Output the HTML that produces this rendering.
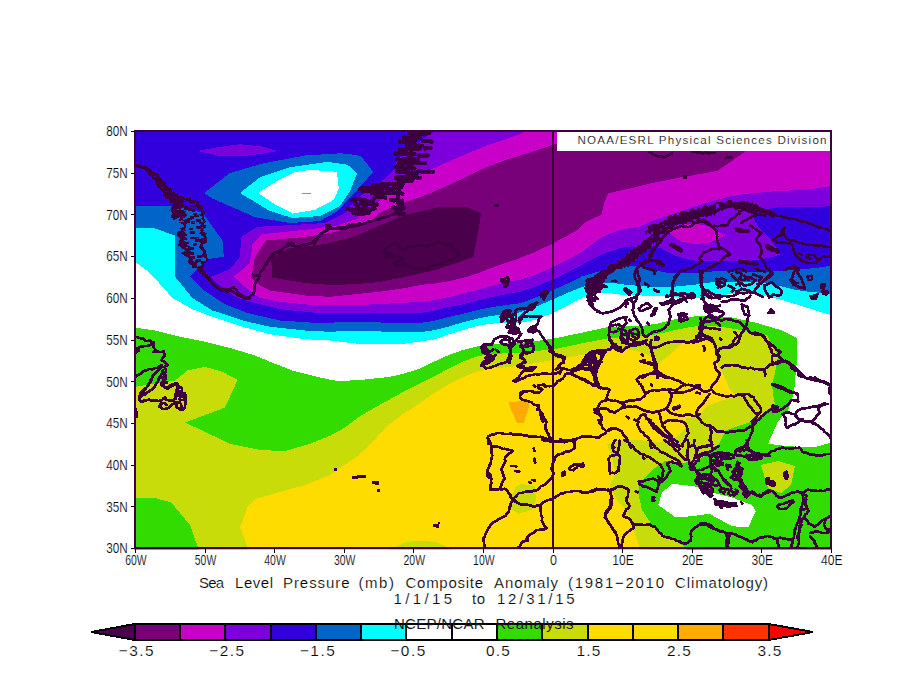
<!DOCTYPE html>
<html><head><meta charset="utf-8"><title>Sea Level Pressure Composite Anomaly</title>
<style>
html,body{margin:0;padding:0;background:#fff}
body{width:904px;height:699px;overflow:hidden}
svg{display:block}
text{font-family:"Liberation Sans",sans-serif;fill:#000;stroke:#fff;stroke-width:.18px}
text.n{stroke:none;fill:#1a1a1a}
</style></head><body>
<svg width="904" height="699" viewBox="0 0 904 699">
<defs><clipPath id="cp"><rect x="134" y="130" width="698" height="420"/></clipPath></defs>
<rect width="904" height="699" fill="#fff"/>
<g clip-path="url(#cp)" shape-rendering="crispEdges">
<rect x="134" y="130" width="698" height="420" fill="#fff"/>
<polygon fill="#00FFFF" points="134.0,128.0 134.0,261.0 150.0,273.0 172.5,298.0 192.5,309.2 212.5,316.8 242.5,326.8 270.0,334.2 305.0,339.2 330.0,340.5 356.0,343.5 381.0,344.2 406.0,343.5 420.0,341.6 434.3,339.4 448.6,334.4 462.9,330.1 477.2,325.8 491.5,323.7 500.0,323.0 520.0,323.0 534.3,320.0 552.9,313.0 567.2,305.8 581.5,298.0 590.0,294.5 598.6,292.7 611.5,293.4 624.4,295.0 642.0,295.5 665.0,296.0 687.0,298.5 704.0,298.0 718.7,295.5 740.0,293.0 757.0,294.2 782.0,300.0 808.0,308.0 832.0,315.5 832.0,128.0"/>
<polygon fill="#0064C8" points="134.0,128.0 134.0,228.0 155.0,228.5 175.0,235.5 175.0,276.8 192.5,298.0 212.5,310.5 242.5,320.5 270.0,326.8 305.0,330.5 330.0,331.8 356.0,330.5 381.0,331.5 406.0,332.3 420.0,332.3 434.3,330.1 448.6,326.5 462.9,322.2 477.2,318.7 491.5,315.8 505.8,314.4 520.0,312.3 534.3,307.3 552.9,299.4 567.2,293.0 581.5,287.2 593.5,284.4 602.5,282.4 614.1,283.1 627.0,285.0 640.0,285.8 654.3,287.3 668.6,287.3 682.9,285.8 697.2,284.4 711.5,282.3 725.8,281.5 740.0,281.5 750.3,281.5 764.6,283.0 778.9,285.8 793.2,289.4 807.5,291.6 832.0,294.0 832.0,128.0"/>
<polygon fill="#3200DC" points="134.0,128.0 134.0,205.5 170.0,205.5 202.5,212.5 216.2,231.8 222.5,240.5 223.8,256.8 207.5,259.2 190.0,276.8 202.5,289.2 225.0,304.2 247.5,313.0 280.0,320.5 317.5,323.0 356.0,321.8 381.0,322.5 406.0,323.0 420.0,323.0 434.3,320.8 448.6,317.2 462.9,313.7 477.2,310.1 491.5,307.2 505.8,305.1 520.0,303.3 534.3,298.0 552.9,290.1 567.2,283.7 581.5,276.5 598.6,271.5 611.5,267.0 621.8,265.1 629.5,265.5 640.0,267.2 654.3,270.1 668.6,273.0 682.9,273.0 697.2,272.7 711.5,271.5 725.8,270.5 736.0,271.5 750.3,272.2 771.8,271.5 793.2,270.1 814.7,268.0 832.0,265.8 832.0,128.0"/>
<polygon fill="#7D00DC" points="437.0,129.0 434.5,131.7 425.1,137.3 414.5,145.3 403.9,153.3 395.9,162.6 393.2,170.6 385.2,178.6 373.3,186.5 362.6,194.5 353.3,202.5 345.3,213.1 325.0,223.0 292.5,225.0 257.5,226.8 241.2,236.8 240.0,256.8 230.0,269.2 210.0,277.5 225.0,289.2 235.0,296.8 255.0,303.0 280.0,309.2 317.5,313.0 356.0,313.0 381.0,313.2 406.0,313.0 420.0,313.0 434.3,310.8 448.6,307.2 462.9,304.4 477.2,300.8 491.5,297.2 505.8,294.3 520.0,291.8 534.3,287.2 552.9,279.4 567.2,272.2 581.5,265.1 598.6,256.0 611.5,250.9 621.8,247.7 632.1,246.4 640.0,247.2 651.4,245.8 661.5,248.6 675.8,255.8 690.1,260.1 704.4,261.5 718.7,260.8 736.0,261.5 757.5,260.1 771.8,257.2 780.3,254.4 777.5,248.6 768.9,237.2 758.9,227.2 752.0,216.0 754.6,212.2 768.9,208.6 778.9,207.2 832.0,206.4 832.0,128.0"/>
<polygon fill="#C800C8" points="528.5,130.0 518.5,134.8 486.0,146.0 460.0,156.6 446.4,162.6 433.1,168.6 422.5,173.9 411.8,179.2 402.5,184.5 393.2,190.5 379.9,200.5 366.6,210.5 356.0,219.0 337.5,225.5 305.0,229.8 262.5,234.2 252.5,244.2 250.0,263.0 233.8,276.8 247.5,289.2 260.0,298.0 280.0,301.8 317.5,305.5 356.0,305.2 381.0,304.0 406.0,302.6 420.0,302.2 434.3,300.1 448.6,297.2 462.9,293.6 477.2,290.1 491.5,285.8 505.8,282.2 520.0,279.7 534.3,275.1 552.9,267.2 567.2,260.1 581.5,252.2 598.6,239.3 611.5,232.9 624.4,229.0 640.0,226.5 654.3,220.0 682.9,210.7 697.2,205.7 711.5,201.4 728.0,196.8 744.5,194.0 772.0,191.5 808.0,189.5 832.0,185.8 832.0,128.0"/>
<polygon fill="#C800C8" points="668.6,232.9 677.2,225.0 694.4,223.6 707.2,225.8 717.3,231.5 725.8,235.0 717.3,239.3 708.7,242.9 694.4,244.3 681.5,241.5"/>
<polygon fill="#780078" points="600.0,130.0 553.5,144.8 531.0,152.2 506.0,159.8 481.0,169.5 460.0,179.9 446.4,185.9 433.1,191.9 419.8,197.2 403.9,202.5 393.2,206.5 379.9,213.1 370.6,221.0 356.0,226.5 330.0,233.0 305.0,236.8 266.2,240.5 255.0,256.8 251.2,278.0 260.0,285.5 270.0,290.5 305.0,295.5 330.0,296.8 356.0,294.2 381.0,291.5 406.0,288.0 420.0,285.0 434.3,283.6 448.6,281.2 462.9,277.9 477.2,273.6 491.5,267.9 505.8,262.9 520.0,258.0 534.3,252.2 552.9,243.6 567.2,235.7 577.2,230.0 586.0,222.0 601.5,214.6 604.5,201.7 608.5,193.3 633.4,187.7 653.3,182.8 682.0,177.2 717.0,171.0 732.0,161.0 745.8,151.0 760.0,130.0 832.0,128.0"/>
<polygon fill="#4B004B" points="271.2,258.0 290.0,248.0 325.0,244.2 356.0,236.0 381.0,224.8 406.0,214.8 438.5,207.2 466.0,206.8 481.0,213.5 478.5,230.5 473.5,256.8 463.5,260.5 438.5,269.2 406.0,276.8 381.0,281.8 356.0,284.2 330.0,285.0 305.0,283.0 272.5,277.5"/>
<polygon fill="#7D00DC" points="197.5,151.0 217.5,147.2 240.0,144.2 262.5,146.5 277.5,151.0 260.0,154.0 240.0,156.5 217.5,155.5"/>
<polygon fill="#0064C8" points="204.2,193.0 230.0,173.0 262.5,163.5 305.0,155.5 340.0,153.3 348.0,153.9 360.0,155.9 364.0,159.9 373.3,171.9 364.0,182.5 353.3,194.5 345.3,202.5 338.0,211.0 320.0,221.0 290.0,223.0 255.0,217.2 212.5,198.5"/>
<polygon fill="#00FFFF" points="240.0,193.0 260.0,177.2 290.0,167.2 327.5,161.8 347.5,164.8 355.0,171.0 357.0,173.5 350.0,191.0 340.0,206.0 320.0,216.0 292.5,218.0 270.0,211.0"/>
<polygon fill="#FFFFFF" points="258.0,193.0 275.0,182.2 295.0,172.2 310.0,169.8 337.0,171.8 338.8,188.5 333.8,199.8 315.0,209.8 292.5,213.5 277.5,206.0"/>
<polygon fill="#32DC00" points="134.0,327.5 155.0,330.5 180.0,336.8 205.0,341.8 230.0,348.0 255.0,355.5 270.0,361.8 292.5,370.5 317.5,376.8 330.0,379.8 337.2,380.8 358.6,380.3 372.9,378.6 387.2,377.2 401.5,374.3 415.8,370.0 420.0,368.6 434.3,361.5 448.6,355.1 462.9,350.0 477.2,346.5 484.4,345.0 500.0,343.6 520.0,343.0 536.0,341.0 553.5,338.6 584.4,332.2 607.0,327.2 628.6,325.8 642.9,325.8 657.2,323.6 671.5,320.0 685.8,317.2 707.0,315.5 732.0,317.5 757.0,323.0 782.0,330.5 797.0,338.0 797.0,360.5 795.0,380.0 794.2,392.5 788.0,410.0 778.0,421.2 768.0,443.8 788.0,446.2 813.0,447.5 832.0,442.5 832.0,550.0 134.0,550.0"/>
<polygon fill="#C8DC0A" points="134.0,387.0 175.0,380.5 187.5,370.5 205.0,366.8 222.5,371.8 237.5,380.0 225.0,407.5 185.0,422.5 230.0,443.8 260.0,450.0 285.0,451.2 310.0,443.8 330.0,435.8 344.3,428.0 358.6,417.2 372.9,408.7 387.2,400.8 401.5,392.9 415.8,385.8 420.0,383.7 434.3,376.5 448.6,368.6 462.9,361.5 477.2,356.5 484.4,355.0 500.0,353.6 520.0,352.6 536.0,351.0 553.5,349.4 584.4,342.9 607.0,338.5 628.6,336.5 642.9,335.8 657.2,334.3 671.5,330.8 685.8,327.9 702.0,325.5 722.0,326.8 744.5,330.5 767.0,335.5 774.2,349.2 778.0,355.5 776.8,363.0 774.5,375.0 772.0,384.0 773.0,394.0 775.0,404.0 764.0,413.0 750.0,422.0 726.0,430.0 720.0,442.0 714.0,450.0 700.0,459.0 684.0,463.0 664.5,461.2 652.0,470.0 639.5,482.5 638.2,492.5 642.0,510.0 652.0,525.0 664.5,535.0 682.0,545.0 687.0,550.0 832.0,550.0 134.0,550.0"/>
<polygon fill="#32DC00" points="134.0,498.0 155.0,498.0 171.2,502.5 190.0,525.0 198.8,550.0 134.0,550.0"/>
<polygon fill="#FFDC00" points="248.8,550.0 240.0,527.5 247.5,507.5 255.0,499.2 280.0,492.0 305.0,485.0 330.0,475.0 356.0,457.0 364.3,450.0 372.9,441.6 387.2,425.8 401.5,415.1 415.8,405.8 420.0,403.0 434.3,393.0 448.6,384.4 462.9,377.2 477.2,371.5 491.5,368.6 505.8,367.2 520.0,365.8 536.0,363.0 553.0,360.0 584.4,354.4 608.7,349.0 628.6,349.4 642.9,352.9 652.9,357.2 657.2,365.1 664.4,358.7 671.5,352.9 678.7,345.8 685.8,341.5 699.5,338.0 712.0,343.0 717.0,363.0 722.0,372.0 727.0,382.0 729.0,389.0 737.0,396.0 708.0,405.0 698.0,417.0 686.0,418.0 685.0,428.0 679.0,435.0 672.0,439.0 660.0,442.0 632.0,439.5 607.0,443.8 612.0,457.5 615.8,473.8 609.5,485.0 617.0,500.0 625.8,510.0 629.5,518.8 633.2,530.0 640.8,550.0 832.0,550.0 134.0,550.0"/>
<polygon fill="#FFAA00" points="508.5,402.0 528.5,400.8 528.5,407.5 524.0,422.5 517.2,423.2 512.2,412.5"/>
<polygon fill="#C8DC0A" points="516.0,486.2 522.2,483.8 534.8,486.2 536.0,500.0 532.2,510.0 518.5,513.8 511.0,508.8 512.2,495.0"/>
<polygon fill="#C8DC0A" points="388.5,550.0 406.0,542.0 421.0,540.5 436.0,542.0 453.5,550.0"/>
<polygon fill="#C8DC0A" points="761.0,465.0 778.0,461.0 795.0,466.0 791.0,485.0 781.0,493.0 768.0,488.0"/>
<polygon fill="#FFFFFF" points="658.2,505.0 662.0,492.5 672.0,483.8 694.5,486.2 712.0,492.5 732.0,497.5 752.0,505.0 755.8,511.2 748.2,527.5 732.0,526.2 709.5,513.8 692.0,516.2 675.8,517.5"/>
<rect x="302" y="192.5" width="9" height="1.3" fill="#32DC00"/>
</g>
<g clip-path="url(#cp)" fill="none" stroke="#3C0041" stroke-width="2.7" stroke-linejoin="round" stroke-linecap="round" shape-rendering="crispEdges">
<path d="M136.3 165.3 137.5 166.0 139.8 167.5 141.3 168.2 143.1 167.9 144.8 169.4 146.6 171.4 148.1 172.3 148.9 174.9 150.1 175.5 152.1 176.8 153.1 178.8 154.9 179.6 155.7 182.2 156.6 183.8 157.6 187.1 158.7 188.0 160.0 189.0 161.2 190.5 162.9 191.3 163.7 192.5 163.8 196.6 165.1 195.9 165.7 198.5 168.0 198.5 169.5 199.6 170.9 202.9 173.2 201.7 174.3 202.7 173.1 204.7 170.9 209.0 169.7 210.3 171.9 209.1 171.7 212.0 173.1 213.2 171.0 217.1 173.3 217.0 173.5 219.9 178.5 217.1 180.7 216.1 179.6 220.9 182.3 219.0 182.9 220.9 185.9 219.4 186.6 219.4 192.0 217.2 192.7 216.5 192.6 216.2 192.8 216.2 190.8 218.2 191.3 219.1 189.4 220.7 189.6 222.1 186.3 223.3 185.0 225.3 184.2 226.8 180.7 228.9 185.7 230.1 178.0 232.1 177.7 233.1 177.2 234.7 178.9 237.1 181.0 239.2 179.6 241.0 179.3 242.8 178.7 245.2 180.7 246.8 182.7 248.1 185.3 250.1 184.8 252.1 181.7 253.2 184.7 255.3 188.9 257.4 190.3 258.2 188.6 260.5 188.4 261.7 189.1 263.6 192.4 265.3 192.5 267.1 203.0 267.4 204.5 265.3 202.2 263.9 204.4 262.9 207.5 260.8 208.3 259.7 206.3 257.9 200.8 255.9 202.9 254.5 203.6 253.2 203.7 251.4 202.4 249.5 199.6 247.6 200.1 245.4 202.3 243.7 199.4 241.8 198.7 239.6 203.4 238.3 205.3 237.0 205.2 234.6 199.9 233.2 203.6 230.8 201.0 229.1 205.5 227.2 200.0 225.9 203.0 223.5 204.2 222.1 203.1 220.1 202.0 218.5 202.3 216.7 203.5 214.7 201.3 212.8 201.1 211.1 202.7 208.7 199.4 209.0 197.0 208.3 198.3 205.2 195.8 205.9 197.2 201.5 193.6 202.3 191.7 202.8 189.3 202.2 190.9 197.0 189.1 197.9 184.2 199.7 184.0 198.0 182.2 197.3 181.9 194.9 177.8 197.5 178.0 193.1 175.7 195.3 174.4 193.0 173.5 192.0 171.1 192.8 171.0 188.4 169.0 188.1 168.1 186.8 166.3 186.0 165.4 182.3 165.0 182.4 163.3 180.2 162.2 180.1 161.2 178.0 160.1 178.5 158.5 174.7 157.4 173.5 155.2 173.3 153.7 172.1 152.1 171.7 151.2 170.4 149.9 169.4 148.5 168.3 147.2 167.2 144.9 165.9 143.3 165.7 142.0 165.6 139.4 165.8 138.2 164.5 136.0 164.2ZM176.4 208.3 180.3 208.3 180.3 210.3 176.4 210.3ZM190.2 231.7 194.2 231.7 194.2 233.9 190.2 233.9ZM189.3 253.2 192.3 253.2 192.3 254.3 189.3 254.3ZM172.4 196.4 175.3 196.4 175.3 197.7 172.4 197.7ZM157.0 176.5 158.9 176.5 158.9 178.2 157.0 178.2ZM137.4 165.7 141.8 165.7 141.8 167.6 137.4 167.6ZM160.4 186.5 163.2 186.5 163.2 188.5 160.4 188.5ZM189.5 228.2 192.3 228.2 192.3 229.8 189.5 229.8ZM135.8 164.8 139.6 164.8 139.6 166.2 135.8 166.2ZM189.3 252.9 193.2 252.9 193.2 254.7 189.3 254.7ZM184.2 242.3 188.5 242.3 188.5 243.8 184.2 243.8ZM191.9 256.7 194.6 256.7 194.6 258.4 191.9 258.4ZM185.1 246.2 189.4 246.2 189.4 248.0 185.1 248.0ZM189.8 247.6 193.6 247.6 193.6 249.9 189.8 249.9ZM188.6 208.3 191.7 208.3 191.7 210.1 188.6 210.1ZM171.1 197.5 173.0 197.5 173.0 198.9 171.1 198.9ZM198.5 226.2 201.3 226.2 201.3 228.0 198.5 228.0ZM148.7 172.1 152.5 172.1 152.5 173.8 148.7 173.8ZM184.5 208.1 187.4 208.1 187.4 209.9 184.5 209.9ZM196.1 219.3 200.2 219.3 200.2 221.3 196.1 221.3ZM138.3 165.9 140.9 165.9 140.9 167.7 138.3 167.7ZM188.7 253.1 191.8 253.1 191.8 254.4 188.7 254.4ZM165.6 190.7 167.6 190.7 167.6 192.3 165.6 192.3ZM193.7 262.8 196.5 262.8 196.5 264.6 193.7 264.6ZM139.6 166.7 143.4 166.7 143.4 167.9 139.6 167.9ZM153.2 175.9 156.8 175.9 156.8 177.6 153.2 177.6ZM181.1 199.5 185.0 201.5 182.3 203.2 184.0 204.9 181.3 207.4 179.5 209.2 185.2 211.7 183.9 212.7 186.8 215.1 185.0 216.7 181.2 219.1 186.3 221.8 180.0 222.5 185.9 225.6 185.6 227.7 182.6 228.6 181.9 230.3 184.7 233.3 186.9 235.2 183.3 236.8 187.3 239.0 182.4 240.4 186.5 243.2 186.2 244.3 188.3 246.8 188.3 248.5 189.7 250.6 190.4 252.7 191.0 254.4 189.4 255.6 193.6 257.6 191.9 258.8 193.1 260.8 194.1 262.6 194.8 263.8 196.7 266.2 197.0 268.0 198.6 269.5 198.8 271.7 199.4 272.0 200.7 273.4 204.2 275.5 204.6 276.8 212.5 279.2 210.7 278.8 210.2 277.2 207.5 276.2 205.8 274.0 205.6 272.5 204.3 271.2 201.9 268.5 201.4 266.3 202.2 264.6 201.9 263.0 202.0 261.4 206.1 261.0 206.8 259.3 206.6 257.9 206.1 256.1 206.1 254.3 205.0 252.2 205.5 250.3 203.1 247.8 202.1 245.3 203.7 243.3 206.9 242.1 206.6 239.8 206.7 237.4 201.3 235.0 206.6 233.8 200.6 230.8 201.1 229.5 203.8 227.8 205.8 225.7 199.5 223.0 205.4 221.3 203.2 218.4 204.0 217.0 199.7 214.7 204.9 212.9 203.7 211.2 198.0 208.3 203.0 206.7 197.5 204.4 199.2 202.4 200.1 201.4ZM192.2 221.3 194.8 221.3 194.8 223.5 192.2 223.5ZM195.4 260.5 197.4 260.5 197.4 262.7 195.4 262.7ZM195.7 239.8 198.4 239.8 198.4 241.3 195.7 241.3ZM194.5 215.6 198.9 215.6 198.9 216.8 194.5 216.8ZM194.2 205.5 198.2 205.5 198.2 206.5 194.2 206.5ZM198.2 266.6 200.7 266.6 200.7 268.2 198.2 268.2ZM189.8 205.0 192.4 205.0 192.4 206.1 189.8 206.1ZM190.8 237.2 194.3 237.2 194.3 238.8 190.8 238.8ZM202.9 274.4 207.1 274.4 207.1 275.4 202.9 275.4ZM190.6 216.7 193.9 216.7 193.9 218.1 190.6 218.1ZM196.7 237.9 198.6 237.9 198.6 239.3 196.7 239.3ZM200.1 271.6 202.0 271.6 202.0 273.2 200.1 273.2ZM193.2 213.6 196.5 213.6 196.5 214.6 193.2 214.6ZM197.7 255.3 201.4 255.3 201.4 257.4 197.7 257.4ZM196.7 259.8 200.8 259.8 200.8 261.3 196.7 261.3ZM196.8 226.2 199.9 226.2 199.9 228.1 196.8 228.1ZM198.6 240.3 202.3 240.3 202.3 241.9 198.6 241.9ZM195.1 237.8 198.3 237.8 198.3 239.2 195.1 239.2ZM191.1 221.6 194.4 221.6 194.4 223.2 191.1 223.2ZM193.1 243.5 196.1 243.5 196.1 245.1 193.1 245.1ZM184.8 206.6 187.3 206.6 187.3 208.6 184.8 208.6ZM192.6 209.4 194.6 209.4 194.6 211.3 192.6 211.3ZM587.9 301.4 588.4 299.9 586.8 297.6 586.9 295.4 588.2 294.5 586.0 291.4 585.4 289.8 584.6 287.6 585.9 285.3 589.1 285.0 585.0 281.3 586.1 279.9 589.4 278.8 593.8 279.0 594.5 278.2 594.4 275.9 596.8 274.4 598.4 273.6 600.0 272.7 600.7 271.0 602.5 270.6 604.9 269.5 606.5 269.6 608.2 267.4 609.1 265.9 610.1 264.9 612.9 264.6 614.8 264.2 617.0 263.3 617.5 260.5 620.4 262.1 621.6 257.9 623.9 260.0 624.6 257.2 626.2 255.7 627.7 253.6 630.6 255.7 630.8 250.5 632.6 249.6 634.0 248.3 635.6 250.1 637.3 247.4 638.9 245.6 640.6 246.3 641.6 243.2 643.6 241.1 645.0 240.5 646.6 239.9 648.2 237.4 648.5 239.0 650.5 236.7 651.7 235.4 653.1 234.2 653.3 230.5 650.9 231.7 650.1 233.9 648.5 231.9 645.4 231.2 647.0 233.6 646.7 232.7 647.1 230.9 649.9 230.5 648.7 227.8 648.9 226.5 650.4 225.5 652.7 224.8 655.8 224.1 658.4 224.4 660.2 223.1 662.8 222.4 663.3 221.3 665.6 220.6 668.3 220.2 667.6 218.1 668.5 216.3 670.8 215.9 674.1 216.3 674.7 214.1 679.0 215.9 679.7 213.9 680.9 211.9 682.5 211.6 685.3 211.8 688.2 212.4 690.2 212.6 690.7 209.9 691.1 208.2 694.5 210.2 697.8 210.0 697.6 207.8 701.3 209.8 702.2 208.6 704.2 205.5 705.6 204.9 708.5 208.3 710.1 206.2 712.5 205.1 714.2 204.5 715.9 203.1 718.1 202.6 719.7 205.7 720.0 210.0 718.6 211.3 716.8 211.9 715.4 213.1 714.6 215.2 712.4 213.4 710.9 215.7 709.0 214.8 707.6 215.9 706.7 216.4 703.8 215.7 703.0 216.6 701.4 217.0 698.7 216.7 699.3 220.1 696.7 218.2 694.3 218.1 692.6 218.3 692.4 220.6 689.1 219.5 686.6 219.3 685.2 219.8 686.6 223.4 684.0 223.0 683.4 224.3 680.6 223.7 677.0 223.1 677.9 224.7 674.0 224.0 674.1 226.1 672.4 226.7 673.7 229.7 668.7 228.1 667.6 229.1 666.4 230.6 669.2 233.5 664.5 232.6 664.4 233.6 660.1 233.4 659.4 234.8 657.0 235.5 661.0 239.5 659.6 240.8 657.5 240.6 656.4 243.1 653.7 240.5 653.7 243.4 652.1 241.1 651.1 244.3 650.1 248.8 649.0 248.7 648.0 247.2 645.6 251.5 645.2 252.3 643.7 251.5 642.9 252.5 640.9 254.8 639.9 254.7 638.4 254.1 637.8 259.0 636.4 257.9 635.0 258.3 634.2 261.7 632.7 262.0 631.1 261.9 630.7 263.3 628.8 264.9 628.2 266.7 626.0 265.0 624.8 267.9 623.1 266.5 621.6 268.1 619.8 268.1 618.1 269.1 616.3 268.8 614.6 269.3 613.8 271.3 612.7 272.7 611.2 273.0 608.7 273.5 608.2 275.1 606.6 276.0 606.6 278.2 604.5 278.9 604.9 280.8 603.8 282.1 601.6 281.8 603.2 284.0 607.8 286.7 607.1 287.9 601.9 287.2 602.3 288.9 599.6 290.0 601.1 292.0 598.4 292.3 596.7 293.4 595.2 295.2 597.0 296.7 598.4 299.1 596.1 299.8 594.8 301.7ZM638.9 252.0 641.3 252.0 641.3 253.2 638.9 253.2ZM610.9 265.7 612.7 265.7 612.7 267.4 610.9 267.4ZM636.5 250.8 638.5 250.8 638.5 252.5 636.5 252.5ZM592.1 295.5 594.3 295.5 594.3 297.0 592.1 297.0ZM662.3 223.9 664.2 223.9 664.2 225.8 662.3 225.8ZM654.2 227.7 657.5 227.7 657.5 228.8 654.2 228.8ZM659.7 228.2 662.7 228.2 662.7 230.3 659.7 230.3ZM595.5 281.1 597.5 281.1 597.5 282.6 595.5 282.6ZM651.8 235.9 653.9 235.9 653.9 238.0 651.8 238.0ZM588.9 294.8 591.2 294.8 591.2 296.8 588.9 296.8ZM655.7 233.1 658.1 233.1 658.1 234.2 655.7 234.2ZM664.3 225.9 667.6 225.9 667.6 227.1 664.3 227.1ZM715.6 204.0 718.2 202.3 720.5 202.1 722.4 203.0 724.6 203.8 726.3 203.1 728.6 201.0 730.9 200.5 732.5 202.8 735.0 201.9 737.3 202.3 739.1 202.2 741.2 201.7 743.9 201.5 745.6 202.8 747.8 201.7 749.5 204.3 752.2 202.7 753.9 204.9 756.3 204.5 758.5 206.6 760.1 207.6 759.9 210.9 757.4 211.5 755.5 210.2 754.2 210.9 752.0 209.4 749.2 209.6 747.6 208.2 745.6 207.9 743.2 208.9 740.8 209.1 739.7 206.8 736.6 207.3 735.1 208.9 732.4 206.6 730.8 207.7 728.1 207.2 726.2 208.3 724.3 208.0 722.2 210.6 719.9 209.0 717.6 208.5 715.5 209.7ZM751.2 206.0 756.7 206.0 756.7 208.4 751.2 208.4ZM735.6 204.3 738.2 204.3 738.2 206.3 735.6 206.3Z" fill="#3C0041" fill-rule="evenodd" stroke="#3C0041" stroke-width="1"/>
<path d="M402.6 199.7 402.8 201.5 402.3 204.3 402.9 207.4 402.6 209.6 400.9 210.3 398.0 211.5 395.5 213.4 393.6 214.6 390.1 215.1 388.2 216.4 384.7 217.3 382.7 217.3 379.9 219.2 376.4 219.3 373.7 220.6 371.6 221.2 367.6 221.6 365.9 223.1 363.0 224.1 359.8 225.2 356.8 225.4 354.7 226.3 351.9 227.1 348.9 227.1 345.9 228.6 342.7 228.3 339.6 228.2 336.8 228.3 334.8 228.4 331.6 228.2 328.9 228.6 326.4 230.7 324.7 231.7 321.8 233.4 320.0 234.5 318.0 236.6 317.7 239.2 315.6 241.5 314.0 243.5M325.9 225.6 328.9 225.6 329.9 227.5 329.9 228.6 328.1 228.4 326.9 229.6 326.2 227.2ZM381.3 252.2 382.9 251.3 385.8 248.9 387.3 247.6 389.5 246.1 391.8 244.9 393.2 243.6 395.6 243.9 398.5 244.9 399.3 246.2 399.9 248.2 402.3 249.8 404.5 250.2 406.4 247.8 408.5 246.2 411.8 246.6 413.8 246.9 415.9 245.3 419.1 244.9 421.2 245.8 424.8 246.1 427.1 246.9 429.1 245.7 432.4 244.9 435.7 243.6 437.7 242.3 440.7 243.1 442.3 242.9 444.0 244.2 447.0 244.9 449.2 244.6 451.0 244.2 451.3 246.8 452.3 248.9 454.4 249.8 457.6 250.9 458.2 253.5 458.9 254.9 457.5 256.2 455.0 258.2 452.7 258.6 451.1 260.5 448.3 260.8 445.8 261.9 444.0 262.1 441.7 263.5 439.4 264.2 436.8 264.9 433.7 265.5 430.4 266.3 427.7 268.3 425.8 268.8 423.6 269.3 420.2 268.2 417.8 268.8 416.1 269.0 412.8 267.9 411.2 267.5 407.9 266.5 405.8 264.8 404.2 264.3 401.9 264.8 399.6 265.1 397.1 265.8 395.2 265.5 393.9 263.5 396.4 262.0 399.3 261.6 401.9 260.2 402.5 258.2 400.1 257.3 399.2 257.1 396.5 256.2 393.8 256.6 390.7 256.5 388.4 257.3 385.9 257.5 385.3 256.2 387.3 254.9 389.5 254.6 392.6 253.5 389.4 253.8 387.4 252.3 383.7 252.8ZM207.9 278.6 209.5 280.1 212.5 282.7 213.8 284.6 215.8 286.7 218.3 287.5 219.8 289.6 221.9 289.5 225.0 289.5 227.8 289.6 230.1 289.2 232.4 287.7 233.8 287.6 235.0 289.0 236.9 290.6 237.7 292.6 239.3 293.8 241.6 294.9 243.7 296.5 245.4 297.5 247.6 297.7 249.7 297.5 251.1 295.3 253.0 294.7 253.7 292.6 254.7 290.5 254.8 286.8 254.7 284.6 256.0 282.2 257.2 280.0 258.7 278.6 259.0 277.3 259.6 274.6 256.8 275.8 254.7 276.2 252.7 274.6M259.6 274.6 260.1 273.0 260.6 271.7 262.9 270.0 264.0 267.3 265.6 264.7 266.1 262.4 268.3 260.8 268.6 258.7 270.3 257.1 271.3 254.9 273.6 252.7 276.2 252.2 278.4 251.4 281.5 249.8 283.3 247.7 286.3 246.7 288.5 244.8 290.5 244.9 293.7 245.8 295.5 246.8 298.3 246.3 300.7 245.6 303.5 244.8 306.1 244.7 308.3 243.8 311.4 242.8 313.0 241.0 315.6 239.2 317.4 237.8 319.1 236.2 320.8 233.8 323.4 231.8 325.7 231.2 326.1 228.8 328.3 227.9 330.3 228.8 333.5 229.0 335.3 228.8 337.8 227.7 341.1 227.8 343.3 226.9 346.1 226.9 348.8 224.8 351.2 224.9 354.6 223.9 357.3 224.2 360.0 222.9M209.9 280.6 211.3 282.1 213.3 284.7 215.8 286.6 217.5 288.2 220.1 289.1 221.8 291.0 224.7 290.6 227.1 291.5 229.8 291.0 232.6 291.5 234.3 292.8 236.7 294.2 238.4 295.9 241.6 296.5 243.7 298.1 246.2 298.5 247.9 298.0 250.1 298.9M266.8 263.7 267.6 261.9 269.6 259.1 271.8 257.5 273.3 255.8 274.4 253.9 276.4 252.4 279.2 252.5 281.9 251.0M287.5 243.8 289.9 243.8 291.5 242.8 293.6 243.9 294.5 245.8M326.3 226.9 327.5 225.3 329.3 224.9 330.7 226.9 331.3 227.9M136.0 337.0 138.2 337.5 140.2 338.3 143.0 338.0 144.5 340.2 145.0 341.0 147.7 341.0 149.5 340.0 151.1 341.6 154.0 342.5 153.5 345.4 153.5 347.0 154.9 349.0 155.5 350.0 154.7 350.7 153.0 352.0 155.4 351.2 157.0 351.5 159.9 352.0 161.3 352.0 164.0 351.5 164.2 353.5 164.5 356.0 163.2 357.6 161.0 360.0 162.4 360.6 165.0 362.0 166.3 364.0 168.0 365.0 166.7 365.7 164.0 367.0 165.2 368.4 166.0 370.0 165.7 372.1 164.0 374.0 165.6 375.0 166.0 377.1 164.7 377.1 162.0 378.1 163.7 379.2 164.0 381.1 165.0 381.7 167.0 382.6 165.4 383.0 163.2 383.9 161.0 384.6 162.9 385.9 165.0 387.1 166.7 387.6 169.0 387.6 170.8 386.7 174.0 384.6 175.6 384.1 177.0 383.1 178.4 385.3 179.1 387.1 177.4 388.5 176.0 391.1 177.3 393.3 178.0 396.1 179.8 395.6 182.1 394.1 183.4 395.8 184.1 398.1 186.1 400.0M136.0 349.0 137.7 347.9 140.0 347.0 141.9 346.4 143.5 346.2 146.0 346.0 148.6 345.6 150.6 344.8 152.0 344.0M136.0 352.5 137.2 351.6 139.0 350.5M136.0 377.1 137.3 375.3 140.0 374.0 141.9 372.7 144.0 371.0 146.2 370.3 147.9 369.3 150.0 369.0 152.3 369.3 155.1 367.9 157.0 368.0 158.9 366.6 162.0 365.0M162.0 367.0 160.5 368.1 159.1 370.1 157.0 371.0 155.8 372.7 154.0 375.1 152.6 376.4 151.7 379.0 151.0 381.1 150.2 382.5 148.2 385.2 147.0 387.1 144.8 388.8 143.5 389.7 142.0 390.9 140.0 393.1 142.0 395.1 144.9 394.4 147.0 393.1 148.5 391.5 151.0 390.1 152.6 388.7 155.0 386.1 156.6 382.9 158.0 381.1 158.7 379.5 160.0 377.5 161.0 375.1 162.3 373.2 163.0 370.0M140.0 393.1 139.8 396.0 139.9 397.8 139.0 400.0M153.0 375.0 152.3 377.0 151.5 379.1 150.0 381.0 149.6 383.4 148.0 384.7 147.0 387.0 145.2 389.2 144.0 391.0 142.4 392.5 140.0 394.0 139.9 396.2 139.5 399.0 139.9 400.2 141.5 402.0 143.9 400.8 147.0 400.0 149.4 399.7 151.3 400.6 154.0 400.5 156.3 400.2 158.0 401.0 159.9 400.6 162.0 400.0 163.4 398.4 165.0 397.5 165.9 399.3 167.0 400.0 169.2 400.5 171.5 400.7 173.0 400.5 174.4 399.1 176.0 399.0 175.3 397.4 175.0 395.0 176.0 393.7 176.0 391.0 176.9 389.4 178.0 387.0 177.6 385.2 177.0 383.0 175.2 383.4 174.0 384.5 171.5 384.6 169.0 386.0 168.3 387.8 168.0 389.0 165.9 387.5 164.0 387.0 162.5 385.0 161.0 384.0 162.2 381.8 163.0 381.0 164.4 380.1 166.0 379.0 164.4 377.2 164.0 375.0M161.0 375.0 159.5 376.9 158.4 378.8 158.0 381.0 156.1 383.3 155.0 386.0 153.4 387.8 151.0 390.0 149.4 391.7 147.0 392.5 144.8 393.3 142.7 395.2 141.5 396.5M178.0 387.0 180.8 387.3 182.1 388.0 181.8 390.4 181.1 392.0 182.8 392.9 184.1 393.0 185.7 394.6 186.1 397.0 185.2 398.5 185.2 401.3 185.6 403.0 185.1 404.6 184.8 407.4 184.1 409.0 181.6 409.7 180.1 410.0 178.4 408.0 176.0 407.0 176.5 405.7 176.0 403.0 178.0 402.0 179.0 402.4 181.1 404.0 181.3 406.3 182.1 408.0M160.0 404.0 160.2 405.4 159.0 407.0 160.8 407.4 162.0 409.0 164.3 408.9 165.5 408.8 168.0 408.0 170.5 406.2 172.0 404.0 173.5 403.7 176.0 402.0M160.0 404.0 162.4 403.3 164.0 403.0 165.4 403.9 167.0 405.0M178.0 390.0 179.6 392.3 181.1 395.0 180.5 397.5 179.1 399.0 180.5 400.2 183.1 400.0M136.0 409.0 136.3 412.2 136.6 414.3 136.4 417.0M501.3 279.3 503.8 279.3 505.4 278.4 507.9 277.3 508.3 279.0 508.6 280.6 507.8 283.6 507.3 286.0 505.3 286.8 503.9 286.6 504.1 284.1 503.3 282.6 501.3 280.6ZM504.6 279.3 505.8 281.6 505.9 284.6M540.5 294.6 542.5 293.4 544.4 291.3 546.5 290.6 547.8 292.0 547.0 293.8 545.2 296.6 543.9 299.3 542.5 297.3 541.1 296.4ZM542.5 295.3 544.0 294.5 545.9 292.6M528.6 306.6 531.2 304.9 533.2 303.9 534.5 303.9 537.2 302.6 535.3 305.2 534.5 307.3 532.9 308.9 531.2 309.9 528.6 308.6ZM530.6 307.3 533.1 306.1 535.2 304.6M500.6 316.6 501.9 315.0 503.3 312.6 505.0 310.9 507.9 309.9 510.6 310.6 510.2 312.0 509.3 313.9 507.7 315.2 505.9 316.6 505.0 317.8 503.9 319.2 503.0 320.3 501.3 321.9 501.2 318.9ZM502.6 316.6 504.3 314.5 506.2 312.9 508.6 311.9M503.3 318.6 504.3 317.3 505.3 315.2M515.3 311.2 517.1 309.5 519.9 308.6 522.9 308.9 525.9 308.6 527.9 310.6 527.2 311.6 525.2 312.6 522.9 314.0 521.2 316.6 519.5 318.2 518.6 320.6 519.9 323.2 520.3 320.3 521.7 318.5 522.6 316.6 525.9 316.6 528.2 316.0 531.1 316.6 533.2 316.6 536.4 316.7 538.5 316.5 541.2 316.6 539.4 317.9 538.5 320.6 537.8 323.2 535.9 325.9 534.0 326.7 531.2 327.9 529.0 329.7 527.9 331.2 529.9 331.4 533.2 332.5 535.3 331.3 537.2 330.5 539.2 331.6 540.2 333.8 541.2 335.2 542.9 336.8 543.9 339.2 545.9 341.1 547.8 343.2 549.1 345.7 550.5 347.2 550.5 348.9 549.2 351.2 551.0 352.0 552.5 352.5 553.8 354.4 554.5 355.1 556.8 354.7 559.8 355.1 562.7 356.0 565.1 357.8 564.0 359.8 563.8 363.0M529.9 329.2 530.9 327.8 533.2 326.5 534.7 327.2 535.9 328.5 534.2 330.5 533.2 331.9 531.8 330.5ZM531.2 329.2 533.1 329.8 534.5 329.2M515.3 311.2 515.9 313.9 516.1 316.3 515.7 318.9 515.3 320.6 514.8 323.3 514.6 325.9 512.8 327.8 510.6 328.5 509.1 327.3 506.6 327.2 507.1 324.9 508.6 323.2 508.0 321.3 506.6 319.2 507.6 316.7 509.3 315.2 511.7 315.1 514.3 314.3 515.9 313.9M509.9 316.6 511.6 315.3 513.3 315.2 512.4 317.8 512.7 320.2 512.2 323.9 512.6 325.9 511.4 326.3 509.3 326.5M511.3 317.9 512.0 320.8 511.8 322.0 511.7 324.5M507.9 320.6 510.0 321.6 513.3 321.9M510.6 328.5 509.6 330.7 508.6 332.5 511.5 332.7 513.3 333.9 516.0 333.4 518.6 332.5 521.2 333.9 519.9 335.3 518.6 337.8 517.0 338.9 515.9 340.5 518.2 341.7 519.9 341.8 522.3 341.4 525.2 340.5 527.4 340.9 530.5 340.1 532.5 339.8 531.5 340.9 530.6 342.5 528.3 343.5 526.6 343.2 525.1 344.9 523.9 346.5 522.6 346.7 519.9 346.5 521.2 344.5M514.6 327.2 516.6 327.7 518.6 328.5 518.8 330.3 519.9 332.5M511.9 330.5 514.9 330.7 517.3 330.5M530.6 342.5 532.2 343.8 533.2 345.8 533.3 349.1 533.2 351.2 531.1 352.1 529.2 352.5 526.7 353.5 525.2 353.1 523.4 353.1 521.2 353.8 520.1 355.9 519.9 357.8 522.0 357.9 523.9 359.1 525.3 361.6 525.2 363.0M481.3 347.2 483.3 345.3 485.3 344.5 488.0 344.5 490.1 344.5 492.0 344.5 493.0 342.3 494.6 339.2 498.0 337.5 500.0 336.5 502.2 336.4 505.0 336.5 506.6 336.5 509.8 338.0 511.9 338.5 513.3 340.6 515.3 341.8 514.1 344.4 513.3 345.8 511.3 346.6 509.3 346.5 509.6 348.5 510.6 351.2 511.1 354.5 511.3 356.5 510.6 358.2 510.0 360.6 509.3 363.0M500.0 341.8 502.0 340.6 503.9 339.2 506.5 339.6 509.3 340.5 509.8 342.4 511.3 343.8 509.7 344.5 507.9 345.8 506.3 344.5 503.9 344.5 502.3 343.5ZM481.3 347.2 482.4 349.7 482.7 352.5 485.6 353.6 488.0 353.8 487.3 355.8 485.3 357.8 487.3 357.1 490.6 356.5 492.1 358.3 493.3 359.1 492.1 360.3 489.8 361.6 488.0 363.0M496.0 349.8 497.6 350.7 498.6 351.8M484.0 348.5 486.2 348.7 488.0 349.8M587.8 279.3 590.4 279.3 593.1 278.0 595.3 277.8 598.1 277.6 600.3 276.7M586.4 287.3 588.3 290.5 589.1 292.6 588.5 295.0 588.5 298.3 587.8 300.6 589.6 301.7 589.8 304.3 591.8 305.9 594.3 308.6 595.7 309.9 598.3 311.1 600.3 312.6M587.8 282.0 586.5 284.8 586.4 287.3M589.1 283.3 590.1 285.9 590.2 289.2 590.4 291.3 589.6 294.4 589.7 296.4 589.8 299.3 590.4 301.1 592.1 303.2 593.1 304.6M585.1 360.5 586.0 358.1 588.3 357.1 589.1 355.1 591.4 354.4 594.4 352.5 596.8 352.1 600.3 351.8M511.3 343.0 510.7 344.9 510.1 347.8 510.6 349.6 510.9 352.1 509.7 354.0 509.9 356.3 508.6 358.2 507.9 359.7 506.6 361.6 503.6 363.1 501.3 363.6 498.2 364.4 496.0 365.6 493.3 366.2 490.6 367.6 488.1 368.0 485.3 368.3 484.0 366.6 481.3 365.6 482.7 364.2 482.7 362.3 485.0 361.4 488.0 360.3 490.9 359.3 493.3 357.6 494.0 356.4 496.0 355.0M481.3 348.3 483.3 347.9 485.3 346.3 484.1 348.7 483.7 350.1 482.7 352.3 485.5 353.1 488.0 353.6 490.2 355.3 492.0 356.3 489.5 358.1 486.7 358.9 485.3 360.8 483.8 361.3 482.0 362.9M481.3 348.3 482.6 346.4 484.0 344.3M484.0 351.0 487.0 350.7 489.3 351.6 491.0 351.0 493.3 349.6M482.7 364.9 484.2 363.8 486.7 363.6M523.9 346.3 526.8 346.5 529.7 346.0 532.5 345.0 533.2 346.6 533.4 348.9 533.2 351.0 531.6 352.0 529.2 352.3 526.8 352.0 525.4 352.2 522.6 353.0 522.2 355.8 520.6 357.6 522.6 359.0 523.9 358.9 523.9 361.4 522.6 362.9 519.7 364.7 517.3 365.6 517.9 366.6 519.9 367.6 521.8 368.1 524.1 368.2 525.9 368.3 528.8 368.7 530.2 367.4 533.2 367.6 535.9 366.9 533.4 368.8 532.4 370.2 530.6 370.9 527.9 370.1 526.6 371.0 523.9 370.3 522.3 371.8 521.2 373.6 519.4 376.2 518.6 377.6 516.5 378.7 514.5 380.3 513.3 380.9 515.9 381.6 518.1 380.2 521.2 378.9 524.1 377.9 526.6 376.2 529.4 375.7 531.3 374.9 533.2 374.9 535.3 374.1 537.6 374.3 539.9 374.2 542.7 373.4 544.1 373.7 546.5 373.6 550.1 374.1 552.5 373.6 553.9 373.4 556.6 373.4 558.5 372.3 560.3 370.8 562.5 369.6 560.7 367.7 559.8 366.9 558.3 368.2 555.8 369.6 557.4 367.8 558.5 365.6 560.6 363.6 562.5 362.9 563.6 360.9 563.8 359.6 562.0 358.0 561.2 356.3 557.9 356.3 555.8 355.6 554.4 353.6 553.8 352.3 552.7 350.7 550.5 349.6 549.4 348.2 549.2 345.6 547.2 344.1 546.5 341.7 544.7 339.8 543.9 339.0 542.2 336.5 541.2 335.0M521.2 347.0 522.8 348.3 523.9 351.0 521.9 353.4 521.2 355.0M519.9 365.6 521.5 365.7 523.9 366.3M570.5 373.6 567.3 373.3 565.1 374.2 564.2 376.6 562.5 378.9 560.2 380.2 557.2 381.6 556.2 383.6 554.5 385.6 551.3 385.9 549.2 386.2 547.8 385.9 545.2 386.9 543.9 384.2 541.6 385.1 538.5 384.9 538.6 386.5 538.5 388.2 541.2 388.3 542.5 389.5 541.2 390.7 539.9 392.2 537.5 392.5 534.5 392.9 532.5 391.3 529.2 390.9 526.0 391.4 523.9 391.5 521.3 392.2 519.9 393.5 520.1 395.6 519.9 397.5 521.7 399.6 523.9 400.2 526.6 400.8 529.2 401.5 531.4 402.3 533.2 404.2 536.2 405.3 538.5 405.5 538.1 407.9 537.2 409.5 539.5 410.4 541.2 412.2 542.5 414.4 543.9 417.5 545.0 419.4 546.5 421.5 546.0 423.1 545.5 426.1 545.2 428.0M533.9 385.6 535.2 386.6M519.9 394.9 522.6 393.5M538.5 407.5 539.0 409.5 540.5 411.8 540.5 414.8 541.9 416.5 541.7 419.6 543.2 421.5M570.5 373.6 572.7 372.3 574.1 371.0 575.8 369.6 578.2 367.7 581.1 366.9 582.2 365.4 584.1 363.9 585.1 361.6 586.1 359.6 586.4 356.3 588.6 354.1 590.4 352.3 592.7 351.4 595.1 351.0 597.1 351.0 598.1 351.1 600.3 350.3M586.4 355.0 588.9 354.7 591.8 353.6 593.2 356.1 594.4 357.6 594.2 360.9 593.1 362.9 590.9 362.4 587.8 361.6 587.5 358.7 587.5 357.6ZM589.1 356.3 590.4 357.8 592.4 360.3M594.4 352.3 595.0 354.4 594.9 356.3 595.9 359.4 595.7 361.6 594.7 363.3 594.2 365.4 593.1 368.3 594.8 370.5 595.7 373.6 596.1 376.0 596.4 379.2 597.1 381.6 598.5 383.9 598.6 385.4 600.3 388.2M570.5 373.6 572.6 375.1 575.8 376.2 578.7 377.3 581.1 378.9 584.0 380.2 586.4 381.6 588.6 382.6 591.2 383.7 593.1 385.6 595.4 385.7 598.1 386.4 600.3 386.9M571.8 372.3 574.4 370.6 576.3 370.4 578.1 369.0 581.1 368.3 583.0 367.8 585.4 368.0 587.4 368.6 590.4 368.3 593.1 368.3M581.1 366.9 578.7 368.1 577.1 369.6 575.4 370.3 573.1 370.9M585.1 362.9 583.6 364.7 581.1 365.6M594.4 409.5 595.1 412.0 597.1 413.5 598.0 413.5 600.3 414.8M598.4 420.1 599.9 422.6 600.3 424.1M634.2 302.9 635.5 300.8 636.8 298.4 637.1 295.7 638.8 294.1 638.2 292.2 638.2 289.9 638.3 286.6 637.3 284.8 637.0 282.1 635.9 280.2 634.8 277.6 634.2 275.5 635.0 272.7 635.8 270.4 637.3 267.8 638.7 266.6 641.7 265.3 643.4 264.7 645.0 263.1 647.6 261.7 648.7 260.7 651.2 260.0 649.8 258.9 648.1 256.9 649.5 254.6 650.8 253.1 652.0 251.5 652.8 249.2 654.8 247.7 657.0 245.3 659.0 243.0 660.7 241.7 662.3 238.8 663.0 237.4 664.9 235.3 666.7 233.7 668.2 232.2 670.6 230.6 672.9 229.1M672.9 229.1 674.9 228.5 677.5 227.5 680.7 226.0 683.5 226.3 685.3 226.3 687.7 227.0 690.0 226.7 692.1 225.4 693.5 224.4 694.6 222.9 692.8 221.7 691.5 220.6 688.7 220.3 686.9 221.3M694.6 222.9 696.6 222.9 699.5 222.1 702.3 221.3 704.7 222.0 706.6 223.6 709.2 224.8 711.6 226.0 712.7 227.3 714.4 228.9 716.3 230.6 716.3 233.3 717.2 236.0 717.1 238.4 717.0 240.4 718.3 243.2 718.6 246.1 719.6 247.9 720.0 249.2M697.7 220.6 700.3 220.8 701.6 220.2 703.9 219.8 705.5 221.1 708.7 223.2 710.1 224.4M720.0 249.2 717.6 249.1 716.1 248.4 713.2 248.4 710.7 249.8 709.0 250.6 706.7 251.7 703.9 252.3 702.6 254.4 701.0 256.3 699.2 258.5 700.6 259.9 702.3 261.6 700.0 262.4 699.1 263.9 696.2 264.6 694.6 266.2 691.4 267.8 688.9 268.7 686.9 269.3 684.7 270.9 681.0 271.2 679.1 272.4 677.9 273.5 675.8 275.1 674.5 277.1 674.4 280.0 673.9 281.8 672.9 284.8 672.3 287.3 672.1 289.6 671.4 292.6 672.1 294.6 672.9 297.2 671.7 299.1 669.9 300.8 668.3 302.9M720.0 261.6 718.0 263.1 715.5 264.5 713.2 266.9 710.1 267.8 707.5 268.5 704.8 269.9 702.3 270.9 702.2 273.9 701.2 275.5 700.0 278.6 700.3 281.1 701.7 283.4 701.2 286.1 702.3 287.9 703.4 289.7 703.7 291.7 703.9 294.1 706.8 295.2 708.5 297.2 711.3 298.2 713.9 297.9 716.9 297.7 720.0 298.8M671.4 243.8 672.9 245.0 675.3 247.0 677.7 246.8 680.6 249.2 682.2 250.0 680.7 251.5 678.4 250.4 675.1 248.1 673.6 247.2 670.6 245.3ZM651.2 260.0 653.1 260.7 655.8 260.1 657.6 260.9 660.5 261.6 662.5 263.6 663.6 265.5 661.9 265.0 659.0 264.1 657.4 263.9M649.7 269.3 651.5 269.2 653.7 270.8 655.9 270.9 655.1 271.9 654.3 274.0M645.0 283.3 647.2 285.0 648.1 286.4M654.3 289.5 656.0 290.7 659.0 291.8M624.9 287.9 626.6 289.0 628.9 291.2 631.1 292.6 629.6 294.9 627.4 293.2 626.2 291.2 624.1 290.2ZM612.5 281.0 615.1 280.7 616.4 281.7M688.4 295.7 691.2 294.9 693.8 294.1 694.9 295.7 694.6 297.2 691.7 297.6 689.2 298.0ZM666.7 295.7 669.2 296.0 671.0 294.2 674.1 294.3 676.0 294.1 678.4 294.8 680.5 295.5 682.2 295.7 683.5 297.1 685.4 300.2 686.9 301.9M716.3 278.6 717.7 280.6 720.0 281.7 719.2 284.1 718.7 286.3 717.8 287.9M640.0 262.9 641.5 262.6 644.2 261.2 645.8 260.4 648.6 260.1 649.4 258.2 651.5 255.8 652.9 252.2 654.3 250.1M671.5 243.6 674.3 244.6 676.3 246.9 679.5 247.7 681.5 249.4 680.1 251.2 677.2 249.6 676.0 248.7 673.6 246.8 670.8 245.5ZM720.1 261.5 718.9 262.5 716.3 264.0 714.4 264.4 712.0 266.2 709.9 266.6 707.2 268.7 705.5 270.6 703.5 271.3 701.5 273.0 700.2 276.0 700.1 278.7 700.5 281.7 701.5 284.4 701.9 287.1 702.3 288.5 702.9 291.6 703.0 293.7 702.7 296.0 701.5 298.7M719.4 247.2 722.2 248.8 723.1 249.3 725.8 250.1 727.1 251.9 728.9 253.6 730.1 254.4 727.7 255.5 726.7 255.6 724.4 257.2 722.4 259.0 721.4 259.9 720.1 261.5M717.3 280.1 719.5 279.2 721.5 278.0 723.9 279.7 725.8 280.1 724.9 283.0 724.4 285.1 722.4 286.2 720.1 287.3 718.2 286.0 716.5 284.4 716.5 281.7ZM719.4 282.3 721.5 282.6 723.0 283.0M728.7 271.5 731.4 270.9 734.4 270.1 736.9 269.0 740.0 268.7M731.6 274.4 733.4 277.0 735.1 278.8 737.3 280.1 738.2 281.5 739.6 283.9 740.0 285.8M728.7 285.8 731.2 286.7 731.9 288.0 734.4 288.7 733.5 289.9 731.6 291.6M645.7 284.4 646.9 284.5 648.6 285.8M654.3 290.1 656.5 291.4 658.6 291.6M642.9 267.2 646.2 268.3 648.6 268.7 651.1 269.8 652.8 270.6 654.3 271.5M652.9 260.1 654.7 260.6 657.1 262.4 660.0 262.9 660.8 264.5 662.9 265.8M714.4 225.8 717.1 226.2 720.2 225.9 722.4 225.5 725.8 225.8 728.0 224.3 728.7 222.6 730.6 219.8 731.6 218.6 734.1 217.4 735.3 216.0 737.3 214.3 740.0 213.6M735.9 228.6 737.7 230.2 740.0 230.8M687.2 294.4 690.5 293.9 692.9 293.0 693.2 295.8 694.4 297.3 691.4 298.2 688.6 298.0 687.3 295.7ZM736.0 205.7 738.4 205.0 741.5 205.5 744.6 205.0 747.2 206.3 750.9 206.9 753.2 207.2 755.7 208.1 759.0 208.1 761.5 209.3 764.6 210.0 767.1 210.6 770.2 211.7 772.3 213.5 774.6 214.3 776.9 215.5 779.0 216.2 780.4 215.8 783.2 217.2 785.9 217.6 788.4 218.3 790.6 218.4 793.2 218.6 795.7 219.5 797.9 220.7 800.7 221.2 803.2 221.5 806.0 222.1 807.6 222.6 810.7 224.1 813.3 225.0 815.0 225.9 817.3 226.8 820.0 227.7 821.8 227.9 825.2 228.3 827.1 229.9 830.0 230.8M736.0 208.6 738.1 208.1 740.4 207.3 743.2 207.2 744.7 207.6 747.3 208.7 749.2 209.8 751.7 210.0 754.1 210.3 757.6 210.8 760.7 211.6 763.2 212.2 765.7 213.2 767.9 213.6 771.3 215.4 773.2 216.5M738.9 211.4 741.9 210.6 743.4 209.9 746.0 210.0 748.2 211.3 750.5 211.4 752.5 212.6 754.6 212.9 757.0 214.1 759.9 214.7 761.9 214.9 764.6 215.7M741.7 222.9 744.0 221.0 746.0 220.0 748.5 218.0 750.8 217.5 753.2 215.7 755.2 215.9 758.2 214.2 760.3 214.3M773.2 239.3 775.8 238.0 777.4 236.7 778.9 235.8 781.0 234.2 781.4 231.8 783.2 229.2 784.6 227.9 783.4 230.2 783.2 232.9 784.1 234.8 785.3 236.7 786.1 238.6 788.3 239.5 790.6 240.7 793.9 240.5 796.1 241.5 798.7 242.7 801.9 243.2 804.4 244.1 807.5 244.3 810.2 245.0 813.9 245.2 816.5 245.7 819.0 245.8 822.0 245.3 824.4 246.8 827.6 246.7 830.0 246.5M778.9 235.8 781.2 235.4 783.2 234.3M773.2 239.3 775.5 240.7 777.5 242.9 780.5 243.1 783.7 242.4 786.1 242.9 788.7 243.2 791.5 244.3 793.2 245.8 793.0 247.9 793.7 250.8 794.7 252.9 796.0 255.5 797.5 257.2 799.5 259.2 800.7 259.5 801.8 261.5 804.2 261.8 807.5 262.9 810.1 263.2 813.3 262.7 816.1 262.9 816.4 261.4 817.5 258.7 815.2 256.7 813.3 255.1 810.8 255.0 807.5 254.4 807.0 256.1 806.1 257.2 808.4 257.5 810.4 258.7M816.1 262.9 817.7 261.1 819.5 259.8 821.8 257.2 824.3 256.7 826.9 257.0 830.0 256.5M798.9 253.6 800.1 254.2 801.8 255.1M793.2 265.8 795.3 268.4 796.1 270.1 794.3 271.7 793.2 274.4 792.5 276.1 792.0 278.7 790.4 280.1 792.4 282.7 793.2 284.4 794.8 285.1 797.3 286.1 798.9 287.3 801.7 287.6 804.7 288.7 803.9 285.4 803.2 283.0 802.3 281.7 801.6 278.7 800.4 277.3 799.1 275.2 797.5 273.0 797.9 271.1 798.9 268.7 797.1 267.9 794.5 266.6ZM784.6 270.1 787.3 268.6 789.8 267.5 791.8 267.2 794.2 268.3 796.4 268.8 798.9 268.7M791.8 280.1 794.2 281.0 795.2 282.7 797.5 283.0M763.9 285.8 766.3 284.8 769.7 282.9 771.8 282.3 773.9 284.2 776.1 286.6 778.4 287.4 780.3 289.2 781.8 291.6 780.9 294.4 778.9 295.9 775.9 295.1 773.2 294.4 771.7 296.5 768.9 297.3 768.5 295.5 766.2 292.8 765.4 291.1 764.6 288.8ZM807.5 276.5 809.7 276.2 811.8 275.8 812.1 278.5 811.1 280.1 808.2 280.1 807.8 277.9ZM821.1 285.1 822.4 284.3 824.7 284.4 824.3 286.2 824.0 288.7 821.6 288.0ZM822.6 290.8 824.6 291.5 827.6 291.6 827.3 293.1 826.1 294.4 824.9 293.6 823.0 293.7ZM810.4 295.9 813.3 295.9 815.6 294.9 817.5 294.4 816.3 296.8 816.1 298.7 813.5 298.2 811.8 298.7 810.9 296.9ZM750.3 225.8 752.1 226.8 754.6 228.6 757.3 230.7 759.1 231.8 761.8 232.9 759.6 234.9 759.2 235.9 756.9 238.0 756.0 240.1 757.3 242.0 759.4 244.2 760.3 245.8 760.8 248.1 761.8 251.5 761.6 253.1 760.5 254.9 759.6 257.2 760.8 258.6 763.3 261.2 764.6 262.9 765.2 264.9 766.0 266.8 766.8 268.7 769.1 269.7 770.7 271.9 773.2 273.0 772.3 273.8 770.3 276.1 768.9 277.3 766.5 278.8 764.7 280.2 763.5 281.6 761.8 283.0 759.4 284.6 758.0 286.3 756.0 288.7 754.2 291.0 753.2 293.0M736.0 229.3 738.0 229.6 741.6 229.8 743.7 230.1 745.7 230.4 748.9 230.8M736.0 230.8 739.3 231.3 741.6 231.7 744.9 231.6 747.4 231.8M766.8 245.1 768.6 245.9 771.8 247.2 773.5 249.3 777.1 249.5 778.9 251.5 777.5 252.9 775.7 251.1 772.6 250.9 770.3 249.4 768.7 248.8 766.3 246.9ZM738.9 260.8 741.9 260.9 745.3 261.1 747.4 261.5 750.5 262.6 752.3 262.8 755.2 263.2 757.5 263.7M739.6 262.2 742.5 262.4 744.6 263.1 747.8 263.8 750.2 263.2 752.6 264.0 756.0 264.7M754.6 268.7 757.3 269.4 759.6 270.6 761.8 270.6 764.6 271.5M736.0 271.5 737.6 273.1 740.1 272.9 741.7 274.4 740.7 276.4 738.9 278.7 742.1 279.9 744.6 280.1 745.8 278.7 747.8 277.6 750.3 277.3 752.4 278.5 753.5 279.5 756.0 280.1 754.0 281.2 751.8 283.5 750.3 284.4 746.8 285.1 744.6 285.8 742.9 284.8 741.7 283.0 739.2 283.4 736.0 284.4M741.7 268.7 744.0 270.3 746.0 271.5M753.2 274.4 755.1 274.8 757.0 276.0 759.2 276.3 761.8 277.3 759.7 280.0 758.9 281.5M744.6 275.8 746.5 277.8 747.6 278.6 748.9 280.1M757.5 284.4 759.8 283.6 762.8 281.8 764.6 280.1 766.9 278.0 768.3 275.8 770.3 274.4M736.0 291.6 737.7 291.0 739.8 290.1 741.7 288.7 743.8 289.5 746.9 290.2 748.9 290.1 751.1 292.2 753.2 293.0M626.5 300.2 628.9 299.3 631.1 299.4 631.9 301.3 633.4 304.1 633.4 306.7 633.4 307.6 632.7 310.3 633.7 311.9 633.9 314.6 635.0 316.5 636.4 319.0 637.1 321.0 638.8 322.7 640.7 325.1 641.9 327.3 642.4 330.4 642.7 333.1 643.5 335.0 644.4 336.4 646.6 336.6 649.3 334.5 651.4 333.5 652.8 331.9 654.5 331.6 656.5 331.5 659.0 330.4 661.4 330.0 663.6 328.8 665.0 327.3 666.5 325.4 668.3 324.2 669.1 321.6 669.3 319.7 670.6 316.5 669.8 314.9 669.6 312.1 668.3 310.3 669.7 308.4 671.4 306.4 673.3 304.3 676.0 303.3 677.7 303.1 680.3 301.6 682.2 301.0 683.3 299.2 685.3 297.9 682.8 296.8 680.7 294.8 678.1 294.5 675.8 293.4 672.9 293.2 673.1 291.3 672.6 288.1 672.1 285.5 672.5 283.8 673.2 281.7 674.5 279.3 676.0 277.8 677.6 275.4 679.1 273.1 680.0 270.9 682.2 270.0M660.5 303.3 663.1 303.4 664.9 302.6 666.7 301.7 668.7 301.7 670.5 301.0 672.9 300.2 674.3 300.7 676.9 301.4 679.1 301.7 680.9 301.5 682.2 301.0M662.1 304.8 664.8 304.2 666.8 303.8 669.5 303.1 672.9 302.5 675.2 302.2 677.4 300.9 680.7 299.4M666.7 297.1 669.0 296.2 671.4 294.0 672.9 293.2M597.0 311.8 598.5 311.8 600.7 312.9 603.2 313.4 606.3 312.5 608.2 312.2 611.0 311.8 612.9 310.9 615.8 309.4 617.2 308.7 619.5 307.7 621.5 306.1 623.4 304.1 625.3 301.6 626.5 300.2 627.1 301.8 628.0 303.3 626.2 304.2 625.7 306.4M626.5 300.2 628.3 299.2 631.0 298.7 633.5 297.8 635.8 296.3 636.7 294.8 638.2 292.8 640.4 291.7 640.4 290.2 639.3 286.9 638.8 285.5 638.5 283.5 639.9 280.4 639.6 277.7 638.2 275.8 637.8 273.2 637.3 270.0M638.8 308.7 640.5 307.5 641.9 305.6 644.3 304.7 645.5 303.6 648.1 303.3 649.3 305.3 651.2 306.4 648.8 308.1 646.6 308.7 644.0 310.2 641.9 311.0 639.9 310.6ZM651.2 315.7 652.6 313.4 654.0 310.4 654.3 308.7 656.7 307.9 655.7 310.7 654.7 313.0 654.0 314.9ZM625.7 288.9 628.1 289.9 629.7 290.6 631.1 292.5 629.9 294.0 627.9 293.5 626.6 291.4 624.9 290.4ZM645.0 283.6 647.2 284.7 648.1 286.0M654.3 289.8 656.9 290.8 659.0 291.4M690.3 296.3 690.9 295.3 692.7 294.0 694.2 295.9 694.9 297.1 692.0 296.2ZM679.1 320.3 680.4 318.7 681.5 316.5 682.2 314.9 684.0 313.8 686.9 314.1 685.0 316.0 683.8 318.3 682.0 319.6 681.0 321.9ZM647.5 322.7 649.1 325.1M655.1 336.9 656.2 336.8 658.2 336.9 658.2 339.7 655.4 339.7ZM626.5 317.2 624.2 317.5 621.8 318.0 618.8 318.6 617.2 319.6 614.5 320.7 612.8 321.5 611.0 322.7 610.2 324.6 609.4 327.3 609.4 328.8 609.7 331.6 609.0 332.5 608.7 335.0 609.3 336.6 609.9 339.2 611.0 341.2 611.5 343.5 613.3 345.9 615.1 347.4 617.2 349.0 618.5 349.8 621.0 351.3M625.7 318.0 625.7 320.5 626.5 322.7 625.0 324.6 623.4 327.3 621.7 329.4 621.0 331.9 621.4 333.8 620.7 336.5 620.3 338.1 621.6 339.8 623.4 342.0 626.1 342.9 628.0 342.8M629.6 319.9 630.5 321.1M612.5 325.8 615.3 324.7 616.4 325.3 618.7 324.2 619.8 325.1 621.8 326.5M611.0 331.9 613.7 332.3 614.8 331.7 617.2 331.2M629.6 330.4 631.6 330.0 633.3 329.2 635.8 328.8 637.7 330.2 638.8 331.9 638.1 334.1 638.5 336.1 638.1 338.1 635.6 339.4 632.7 340.5 631.0 339.2 628.0 338.1 628.8 335.5 628.7 333.2ZM631.1 332.7 634.3 333.9 636.5 334.3M621.8 335.0 624.0 334.7 626.5 334.3 627.2 336.0 627.7 338.7 628.0 340.5 626.1 340.3 623.4 341.2 623.5 339.1 622.2 337.1ZM631.9 335.8 634.4 337.2 635.8 338.1M624.9 342.8 627.0 343.7 628.8 344.4 631.1 344.3 632.7 343.4 634.2 342.0M618.7 328.8 620.2 329.7 623.1 329.7 624.9 330.4 625.9 332.1 626.5 335.0M621.0 351.3 623.5 350.3 624.5 349.1 626.5 347.4 629.2 346.8 629.9 346.1 632.7 345.9 635.3 345.4 637.9 345.0 640.4 344.3 642.6 343.4 645.0 342.8 647.4 344.5 648.9 345.9 650.1 347.2 651.2 349.0 652.9 347.7 655.9 347.4 658.3 347.0 660.5 346.0 663.6 344.3 665.7 343.3 668.7 342.4 671.4 342.0 673.9 341.7 676.4 341.8 679.1 341.2 681.4 341.5 684.7 341.7 686.9 342.8 689.4 342.5 691.2 341.3 693.1 341.2 696.1 339.3 697.7 338.1M613.3 345.9 611.7 347.0 611.0 349.0 608.5 350.1 605.4 349.9 603.2 350.5 600.2 351.0 598.0 350.4 595.5 351.3 593.6 351.4 591.5 352.2 589.3 352.9 588.0 354.4 586.2 356.7 585.5 359.2 583.5 360.3 583.1 362.9 582.1 364.0 580.0 366.0M587.0 357.5 589.4 356.7 592.4 356.0 593.2 358.4 594.7 359.8 592.8 361.6 590.8 362.9 589.0 362.3 587.0 361.4 587.1 359.2ZM589.3 358.3 591.3 359.6 592.4 360.6M598.6 353.6 601.3 354.3 603.2 354.4M697.7 338.1 698.4 336.2 699.2 333.5 700.8 331.9 699.5 329.4 699.2 327.3 700.4 325.2 702.3 322.7 703.9 320.2 705.4 318.0 706.5 317.1 708.5 316.5 709.6 317.4 711.6 318.0 713.5 319.8 715.4 321.2 716.3 322.7 718.1 323.7 720.0 325.8M703.9 307.2 705.7 306.3 707.4 305.4 710.1 304.8 711.5 304.9 714.7 306.5 716.3 306.4 718.1 306.0 720.0 305.6M705.4 309.5 707.8 310.1 710.0 311.0 711.6 311.8 713.1 310.9 716.1 311.0 717.8 311.0 720.0 311.8M707.0 307.9 708.7 308.3 710.7 308.4 713.2 308.7M708.5 310.6 710.9 310.6 712.7 309.3 714.7 309.5M651.2 349.0 651.2 351.9 652.7 354.0 652.8 356.7 654.3 358.1 655.2 360.9 655.9 362.9 656.8 364.9 656.9 368.4 656.7 370.7 656.6 373.8 657.1 375.3 657.4 377.9M613.3 345.9 616.3 346.3 619.2 347.3 621.0 347.4M641.9 377.9 644.2 377.0 647.2 374.9 649.7 373.8 652.3 372.9 653.9 371.2 656.7 370.7 658.6 371.8 660.7 373.6 663.6 375.3 665.4 376.2 667.5 377.4 669.8 377.9M697.7 338.1 699.5 338.1 702.3 339.3 703.9 338.9 706.7 338.6 709.7 339.8 711.6 339.7 713.8 342.7 714.7 344.3 715.6 346.1 716.0 348.6 716.2 351.8 716.3 353.6 718.5 355.4 720.0 356.7M700.8 327.3 703.4 327.7 705.6 327.7 708.5 328.1 710.5 328.5 713.2 328.0 714.7 328.8 717.4 328.9 720.0 329.6M703.9 345.9 704.5 348.0 703.9 350.5M603.2 350.5 603.3 352.4 601.5 355.0 601.7 356.7 601.5 359.1 600.6 361.1 600.1 362.9 598.9 364.4 598.1 366.7 597.0 369.1 596.4 371.7 595.7 375.5 595.5 377.9M641.9 354.4 642.6 355.0M641.2 361.4 642.9 362.1 645.0 362.6 647.7 363.2 650.0 364.1 652.8 364.5M699.2 270.0 699.6 272.0 701.7 275.1 702.3 277.7 701.3 280.8 701.2 282.2 700.8 285.5 702.5 287.1 703.1 289.1 703.9 291.7 705.7 292.8 707.6 294.5 708.5 296.3 710.8 296.5 712.5 297.9 714.7 297.9 716.0 296.7 718.0 296.1 720.0 294.8M716.3 279.3 717.8 280.3 720.0 280.8M717.1 283.2 718.8 283.6 720.0 285.5M560.0 373.3 561.0 371.0 561.7 369.9 563.1 367.9 565.0 368.9 568.7 370.1 570.8 370.2 572.8 368.9 574.4 368.5 577.0 367.9 578.9 365.8 579.9 365.3 581.7 363.2 582.5 361.5 584.6 358.6 585.6 357.0 588.0 355.2 589.2 353.8 591.0 353.2 593.5 352.7 595.9 352.6 597.5 351.9 600.3 351.6 602.6 351.6 603.8 350.0 606.5 350.1 608.9 349.4 610.4 349.2 612.7 347.7 613.9 345.7 615.8 344.6M587.1 355.5 588.9 354.6 591.3 355.1 593.3 354.7 594.2 357.4 594.8 359.4 593.2 361.0 591.0 361.7 589.3 360.6 587.1 360.1 587.1 357.8ZM588.7 357.0 590.9 357.5 592.5 358.6M595.6 360.1 597.1 361.2 600.4 361.2 601.8 361.7M583.2 361.7 584.2 363.2 586.3 364.8 588.8 365.2 591.0 365.6M578.6 366.3 581.6 367.4 583.2 367.1M569.3 373.3 572.0 373.6 573.9 374.9 575.5 375.6 577.4 376.9 580.0 378.3 581.7 378.7 584.8 379.2 587.1 381.0 588.8 382.3 591.7 384.1 593.0 383.9 595.6 384.9M573.9 371.0 576.9 370.2 579.3 369.4 581.7 368.7 584.1 369.2 586.3 369.2 589.4 369.4 591.1 370.7 592.5 372.5 593.4 374.9 594.8 377.2 594.7 380.2 595.4 382.2 595.6 384.9M606.5 350.1 605.6 352.3 604.6 353.1 603.4 355.5 602.1 358.1 600.3 360.1 599.2 361.8 597.2 364.8 595.4 367.0 594.8 369.4 594.0 371.9 593.3 374.1 594.6 376.7 596.4 378.7 597.1 380.5 597.2 383.4M595.6 384.9 598.0 386.2 599.3 387.6 601.8 388.0 604.4 388.9 607.3 388.6 609.6 389.6 608.3 392.3 608.0 394.2 606.9 396.8 606.8 397.7 605.7 400.4 603.8 400.9 601.0 401.9M601.0 401.9 599.1 404.3 598.6 405.5 597.2 408.1 595.9 410.3 594.8 412.8 596.8 411.3 598.7 409.7 600.6 408.8 602.3 408.8 604.9 408.1 607.5 409.3 609.6 411.2 611.9 411.4 614.2 412.8 616.6 411.3 618.1 410.5 620.0 409.1 621.9 408.1 622.6 407.2 624.3 405.0 623.2 404.0 621.2 402.7 619.8 402.3 617.3 401.2 615.1 400.7 613.1 401.0 611.1 400.4 608.1 399.8 605.7 400.4M598.7 414.3 600.1 415.9 601.8 417.4 601.6 419.0 600.7 422.2 599.5 423.6 601.7 425.3 602.6 428.3 604.5 429.5 606.5 431.4 609.3 430.4 611.1 429.8M598.7 409.7 598.8 411.3 598.7 414.3M574.7 447.9 574.6 445.1 575.0 442.2 575.5 439.1 578.0 438.2 580.6 437.4 583.2 436.0 585.4 436.8 588.8 436.2 591.0 436.8 592.3 436.9 594.7 437.1 597.2 437.6 599.7 437.1 601.9 434.8 603.4 434.5 605.1 433.4 606.5 431.4 609.1 429.3 611.1 428.3 613.2 428.2 615.2 428.2 617.3 429.0 620.3 430.5 621.9 431.4 622.9 434.3 625.0 436.0 626.6 438.1 627.4 440.0 628.1 442.2 629.8 443.5 629.6 445.5 631.2 447.9M560.0 439.1 562.8 440.1 564.6 442.2 566.8 441.6 569.4 440.8 570.8 440.7 572.8 439.6 575.5 439.1M621.2 402.7 623.9 402.5 626.1 401.4 628.1 401.2 629.9 400.3 631.9 401.0 634.3 400.4 636.5 399.7 638.0 399.8 640.5 399.6 642.3 397.7 644.4 395.8 645.8 393.8 646.0 392.7M624.3 408.1 625.9 407.0 628.1 406.6 629.7 406.1 632.5 407.0 634.3 406.6 636.7 406.7 638.9 407.9 640.5 408.9 642.7 409.7 646.0 411.2 648.1 411.8 650.8 411.9 652.9 412.8 655.7 411.6 656.9 411.7 659.1 411.2 661.5 410.1 663.2 410.1 665.3 408.9 666.4 409.4 668.4 411.2 670.9 412.9 672.0 413.8 674.6 414.3 677.0 415.0 680.0 415.5 682.3 415.9 684.1 415.8 685.8 414.2 688.5 414.3 691.4 415.0 693.2 415.9 694.9 415.9 698.2 414.6 700.0 414.3M636.7 379.5 638.0 377.9 640.5 376.4 642.1 376.0 645.1 375.2 646.7 374.8 648.1 374.6 650.4 373.4 652.9 373.3 654.5 373.8 657.6 374.2 659.1 375.6 661.9 376.0 664.0 377.0 666.9 377.9 669.0 377.6 670.7 378.0 673.1 378.7 674.7 380.0 677.2 380.4 679.2 381.0 682.0 383.0 683.9 384.1 683.0 385.8 680.6 386.8 679.2 388.0 676.9 389.7 674.6 390.3 672.5 389.9 670.0 389.6 668.4 389.6 665.9 390.1 664.7 388.9 662.2 389.6 660.8 389.9 658.5 390.8 656.0 390.3 654.6 390.0 652.1 390.5 649.8 391.1 648.3 392.5 646.0 392.7 644.0 391.3 643.0 389.0 642.1 386.5 640.9 384.7 639.0 383.4 638.3 381.9ZM651.1 384.6 652.0 385.5M651.4 340.0 650.4 342.2 650.8 344.4 649.8 346.2 651.4 348.1 652.2 352.0 652.9 353.9 653.3 356.1 653.0 358.8 653.7 360.1 654.5 362.2 653.9 364.2 654.5 366.3 654.7 368.3 656.0 371.0 654.1 372.2 652.9 373.3M683.9 384.1 685.8 385.2 688.6 384.7 691.6 385.7 694.7 386.0 697.7 384.9 700.0 384.9M668.4 389.6 669.3 391.6 671.5 393.4 671.7 396.5 670.7 398.8 670.4 401.4 669.8 402.8 668.4 405.0 667.5 406.8 665.3 408.9M671.5 393.4 673.5 392.9 676.2 392.4 679.2 392.7 682.5 392.5 685.1 391.8 687.0 391.1 689.1 390.7 692.4 389.6 694.7 388.0 697.8 386.8 700.0 386.5M673.1 408.1 675.2 406.9 676.9 406.9 679.2 405.8 679.9 406.9 677.3 408.0 676.4 409.1 673.7 409.2ZM637.4 420.5 638.8 418.9 640.5 415.9 643.5 414.5 645.2 414.3 646.1 417.2 646.7 419.0 648.9 420.1 649.8 422.1 651.5 425.0 652.9 426.7 654.0 428.6 656.0 429.8 658.0 432.0 660.7 432.9 662.3 435.0 664.2 436.3 666.9 437.6 669.1 438.6 670.9 438.3 673.1 439.1 675.0 440.1 677.7 442.2M648.3 419.0 649.5 420.0 650.7 421.9 652.9 423.6 655.3 426.3 657.6 427.7 659.1 429.8 661.0 431.7 662.7 433.4 665.3 435.2 667.9 436.2 669.7 436.3 671.5 437.6M650.6 420.5 651.3 422.8 652.9 423.9 654.5 426.0M637.4 420.5 638.3 422.0 637.5 424.5 638.2 426.7 639.7 429.1 640.5 431.4 643.0 432.4 644.4 434.5 646.1 436.2 647.5 436.9 649.0 439.1 650.2 440.9 650.8 443.0 650.2 445.3 651.4 447.9M634.3 419.8 635.5 420.4 637.4 420.5M662.2 423.6 664.6 422.9 666.0 421.3 668.4 420.5 670.6 419.9 673.7 421.0 676.2 420.5 678.2 420.9 681.2 421.3 683.9 422.1 685.7 424.5 687.0 426.7 687.1 428.1 687.6 430.6 688.5 432.9 686.9 435.5 686.2 436.9 685.4 439.1 684.4 441.4 682.8 443.3 682.3 445.3M659.1 411.2 659.2 413.8 660.0 415.3 660.7 417.4 660.8 419.4 661.3 421.2 662.2 423.6 662.6 426.0 664.5 427.2 665.3 429.8 667.2 431.9 670.1 434.1 671.5 436.0M612.7 445.3 613.5 447.1 614.2 447.9M626.6 416.7 628.5 418.2M609.6 340.0 611.6 341.4 612.7 343.1 613.5 345.9 614.2 347.7 616.5 349.8 618.8 350.8 620.4 350.6 621.9 351.6M611.1 341.5 613.2 343.4 614.2 345.2 615.8 346.2 618.5 348.0 620.4 349.3M621.9 343.1 624.7 343.1 627.5 343.7 629.7 344.6 632.9 344.5 635.3 342.6 637.4 342.3 639.6 342.4 642.0 341.9 644.6 341.0 646.7 340.0M642.1 354.7 643.0 355.6M639.8 360.9 641.7 361.1 644.4 360.1M648.3 362.5 651.2 363.0 652.9 364.8M696.3 392.7 698.0 392.9 700.0 393.4M610.1 473.3 609.6 470.7 609.6 469.2 609.4 466.3 609.5 463.9 608.9 461.1 608.6 458.6 610.4 456.5 612.5 455.5 614.9 455.1 617.1 453.9 619.3 456.1 620.2 457.0 620.0 458.5 619.4 461.2 619.4 463.2 618.9 465.7 618.7 468.4 618.7 471.0 616.9 471.5 614.8 473.3 612.1 472.8ZM613.2 450.8 613.1 449.0 612.1 447.3 612.5 444.6 613.8 442.0 615.6 440.0M619.4 440.8 619.5 443.7 619.5 444.7 618.7 447.7 618.3 450.2 617.1 453.2 614.9 452.0 613.2 450.8M624.1 440.0 626.4 441.0 628.7 442.6 630.3 444.6 632.5 446.1 633.8 447.4 634.9 449.3 636.3 450.8 637.6 451.5 639.6 453.2 642.3 454.3 644.2 454.7 646.9 456.4 648.8 457.0 651.6 458.6 653.5 460.1 655.3 461.4 658.1 463.2 659.7 464.3 661.2 466.3 662.9 469.2 663.6 471.0 662.5 472.9 662.8 475.6 661.7 478.4 659.7 480.3 658.6 481.8 658.1 483.4 661.0 482.1 662.8 480.3 664.0 479.2 665.9 477.4 667.4 475.6 668.5 472.6 670.5 471.0 669.6 468.8 669.0 466.3 667.8 465.3 667.4 463.2 669.9 462.2 672.1 461.7 673.9 463.0 676.7 463.2 679.4 465.0 681.4 466.3 680.3 463.8 679.8 461.7 677.0 460.2 675.2 458.6 673.5 458.3 670.5 457.0 668.4 455.7 665.9 453.9 663.5 452.8 661.1 452.3 659.7 450.8 657.7 448.6 655.0 447.7 654.1 445.6 651.9 443.1 650.5 440.9 648.8 440.0M643.0 457.3 644.2 458.6M658.1 476.4 659.4 477.9M638.8 481.8 640.8 481.7 643.2 481.4 645.8 480.3 648.5 479.6 650.7 479.0 653.5 478.7 655.2 479.4 657.9 480.7 659.7 481.0 658.8 483.2 658.1 486.5 657.4 489.4 656.6 491.9 654.8 490.5 651.9 489.6 650.1 488.7 647.5 486.9 645.8 486.5 643.1 486.4 641.8 485.4 639.6 484.1ZM651.9 497.3 654.3 497.3 653.9 499.3 654.3 500.7 651.9 500.7 652.5 498.7ZM635.8 491.4 637.4 492.3M590.0 491.1 591.6 490.7 594.7 490.0 596.2 488.8 599.2 489.2 601.6 489.6 603.9 489.6 606.3 490.0 608.8 489.7 610.1 490.3 612.1 489.1 613.6 488.6 616.3 487.2 618.5 486.5 620.8 486.3 622.5 486.5 624.6 487.9 627.2 488.8 628.7 489.6 628.3 492.4 627.9 494.2 627.9 496.8 626.5 497.8 626.4 500.4 626.9 502.1 628.9 504.9 629.5 506.6 627.8 508.4 626.7 509.1 625.6 511.2 624.3 513.9 623.3 515.9 625.0 517.1 627.2 517.4 628.9 518.6 631.0 520.5 631.5 522.6 632.6 523.6 635.4 524.4 638.4 524.8 641.1 524.4 643.1 524.9 646.3 524.9 648.8 524.4 650.7 524.9 652.4 526.4 655.0 526.7 656.1 528.4 658.0 531.0 659.7 532.9 661.8 534.2 662.5 535.8 664.3 536.8 667.3 537.5 669.7 537.9 672.1 539.1 674.8 539.2 676.9 541.0 679.8 541.4 681.4 542.6 683.9 543.4 686.0 543.8 687.8 542.4 690.7 540.7 690.9 538.5 691.3 536.4 690.7 534.5 691.0 532.0 692.6 529.7 693.8 528.3 695.8 527.2 698.4 525.2 700.0 524.9 702.7 523.8 704.6 523.6 706.9 523.9 708.2 524.5 710.8 525.2 712.5 526.6 713.9 529.0 716.9 529.5 718.8 530.9 721.6 531.4 723.8 531.7 726.3 533.1 727.8 532.9 728.7 535.0 730.0 536.0M610.1 490.3 610.2 492.7 611.3 496.6 610.9 498.8 610.4 500.8 610.5 503.0 610.1 505.9 609.4 508.1 607.6 509.5 607.0 510.6 605.5 512.8 605.6 514.8 604.7 517.4 606.1 518.9 608.0 521.8 608.6 523.6 610.3 525.0 611.9 527.6 613.2 529.8 614.6 532.2 616.3 534.5 616.8 536.0 617.6 538.8 617.9 540.7 618.1 543.3 619.1 545.2 619.4 547.9M632.6 523.6 633.1 525.4 633.4 528.3 631.5 529.3 628.7 531.4 627.5 532.4 625.1 533.9 624.1 536.0 623.1 537.7 622.7 540.2 622.5 542.2 621.3 545.4 621.0 547.9M727.8 532.9 727.8 534.3 728.3 536.6 728.6 539.1 729.0 541.8 727.4 545.2 727.8 547.9M687.6 440.0 688.4 443.1 688.3 444.7 688.3 447.7 687.3 450.3 687.6 452.3 686.8 455.5 687.2 457.7 689.0 460.4 689.1 463.2 690.6 465.0 692.2 467.9 694.1 468.8 696.9 471.0 697.3 473.7 698.4 475.6 697.6 478.0 696.8 480.1 696.9 481.8 697.8 483.9 700.2 484.5 701.5 486.5 702.9 488.7 704.6 491.1 707.1 493.2 709.2 494.2 710.2 495.4 712.3 495.8M688.3 447.7 689.7 446.6 692.6 445.4 693.8 444.6 695.1 447.5 696.9 449.3 696.8 451.6 696.2 452.9 695.3 455.5 694.8 457.2 693.8 460.1 692.8 461.2 690.7 463.2M695.3 455.5 697.3 455.1 699.9 454.7 701.5 453.9 703.1 453.3 705.4 452.2 707.7 452.4 710.0 451.8 712.5 449.8 713.9 449.3 716.8 447.2 718.5 446.2M696.9 449.3 698.8 447.6 700.7 447.0 703.1 446.2 705.9 445.9 708.6 445.3 710.8 444.6 712.4 447.6 713.9 449.3M709.2 440.0 711.0 442.1 712.3 444.6M698.4 475.6 700.5 475.4 702.0 474.8 704.6 474.1 706.3 474.4 709.0 474.9 710.8 475.6 712.8 478.0 713.9 480.3 713.0 482.0 710.8 484.9 708.7 483.7 706.2 483.4 705.1 485.4 703.1 486.5 705.9 487.4 707.7 489.6 710.0 490.7 712.3 492.7M696.9 471.0 699.6 469.8 700.6 470.1 703.1 469.4 705.0 468.0 707.1 467.8 709.2 466.3 711.5 467.6 713.9 467.9M700.0 478.7 701.9 478.2 704.1 478.9 706.2 478.7M701.5 481.8 703.0 483.2 705.7 484.2 707.7 486.5M664.3 440.0 665.8 441.7 668.6 442.8 670.5 444.6 672.6 446.3 674.9 449.4 676.7 450.8 678.1 451.8 679.4 453.9 681.4 455.5 683.0 457.2 684.4 458.8 686.0 460.1 687.1 457.3 687.6 455.5M669.0 440.0 671.4 441.2 672.9 443.6 675.2 444.6 678.4 444.9 680.4 446.0 682.9 446.2M672.1 441.5 673.4 443.0 675.4 445.7 678.2 446.8 679.8 449.3M746.5 440.0 747.1 442.1 748.1 445.0 748.0 447.7 749.5 449.7 751.4 450.3 752.7 452.4 755.1 453.5 758.3 453.5 760.4 453.9 763.4 453.9 765.8 454.6 768.1 453.9 769.6 452.8 772.1 451.0 774.6 450.9 775.9 449.3 778.4 448.8 781.6 447.8 783.6 447.7 786.1 448.3 787.8 448.0 790.7 448.9 792.9 448.5 795.0 447.8 797.7 448.1 799.1 447.0 801.0 449.0 802.2 451.6 804.9 453.0 806.3 452.7 808.4 453.9 810.9 454.7 813.9 454.7 816.2 455.5 819.0 455.7 821.6 455.6 823.9 454.7 826.1 454.0 828.2 453.9 830.1 453.9M735.6 450.8 737.7 449.5 740.3 447.7 743.0 447.4 745.0 446.7 746.5 446.2M738.7 455.5 741.6 455.8 743.3 456.3 746.5 457.0 748.5 458.2 750.8 459.0 752.7 460.1 755.3 460.0 757.0 459.5 760.1 458.4 761.9 457.8 759.0 456.7 757.5 456.2 755.3 455.6 752.7 455.5 750.3 454.9 749.0 455.2 746.5 454.7M709.3 455.5 711.3 455.5 713.3 455.2 715.7 454.8 718.6 453.9 721.2 454.8 723.6 454.8 725.2 455.5 727.9 455.5 730.9 454.9 733.3 455.6 735.6 454.7 737.0 455.7 738.7 455.5M715.5 457.0 718.5 457.2 720.2 457.1 722.1 458.4 724.8 458.6 727.5 458.9 729.9 458.8 732.0 458.2 734.1 457.8M737.2 461.7 737.0 463.8 736.3 466.2 735.6 467.9 738.6 469.1 740.3 471.0 739.3 473.3 738.8 474.6 738.7 477.2 740.3 478.5 741.8 480.3 740.9 482.7 740.3 484.9 742.1 486.6 744.9 488.0 746.1 489.3 748.0 491.1 747.8 492.7 746.5 495.0 746.5 497.3 747.4 496.4 749.7 494.4 751.1 492.7 753.4 493.5 755.8 494.2 757.6 495.1 759.6 494.8 761.9 495.8 763.1 493.6 765.1 492.5 766.6 491.1 768.7 490.5 770.3 490.7 772.8 491.1 774.6 493.0 776.5 495.6 779.0 497.3 781.1 497.5 783.6 496.9 785.2 495.8 786.6 495.0 789.2 494.3 791.4 492.7 793.6 492.3 796.1 491.9 797.6 491.1 799.6 492.5 802.2 492.7 804.9 491.5 806.4 490.3 808.4 489.6 811.3 490.4 812.9 490.8 815.3 490.1 817.7 491.1 820.7 490.4 822.7 491.1 824.7 490.8 827.7 489.2 830.1 489.6M738.7 466.3 740.0 467.7 742.6 468.7M739.5 474.1 738.3 475.7 736.4 476.4M741.8 483.4 742.9 485.3 744.2 488.7 746.0 491.3 746.5 493.4M743.4 486.5 745.1 489.0 746.8 489.8 748.0 492.0 749.6 494.2M777.4 506.6 778.4 504.8 780.5 504.3 783.0 503.8 784.8 502.9 786.7 502.7 788.5 501.8 791.0 501.1 792.9 500.4 793.7 501.9 791.1 503.7 789.8 505.0 788.3 506.8 786.7 508.1 784.8 508.8 782.7 508.9 780.5 508.9 778.4 508.4ZM802.2 492.7 802.2 495.1 803.0 496.2 803.8 498.8 803.6 500.8 802.6 503.2 802.2 505.0 801.7 507.2 800.7 509.0 800.7 511.2 800.6 513.4 800.3 514.9 799.1 517.4 798.6 520.3 798.0 522.4 796.6 525.0 796.0 526.7 795.6 528.9 794.5 530.2 794.5 532.9 794.1 535.0 794.1 536.8 792.9 539.1 792.8 542.6 791.7 544.9 791.4 547.9M803.8 494.2 805.5 495.0 806.9 495.8 805.9 497.4 806.3 499.5 805.3 501.9 805.4 504.4 806.8 506.6 806.9 508.1 808.2 510.4 808.4 511.2 806.8 513.4 805.0 514.8 803.8 517.4 802.2 519.8 801.7 521.3 800.7 523.6 799.6 525.9 799.1 527.9 799.1 529.8 799.2 531.6 798.0 534.1 797.6 536.0 797.8 538.2 798.7 540.0 799.1 542.2 798.1 545.0 797.6 547.9M800.7 511.2 802.0 509.9 804.4 509.5 806.9 508.1M799.1 517.4 800.2 519.5 801.4 520.5 800.7 522.9 801.5 524.6 800.7 526.7 799.9 528.5 799.7 530.4 799.1 532.9 798.9 535.5 798.8 536.5 797.9 539.1M803.8 517.4 805.4 519.2 807.4 521.0 808.4 523.6 809.9 524.0 812.5 525.0 814.6 526.7 816.7 525.0 818.6 524.2 820.5 522.1 822.3 520.5 825.0 519.3 826.6 518.0 827.8 517.4 830.1 515.9M825.4 519.0 825.3 520.8 824.4 523.1 823.9 525.2 825.3 527.5 827.0 529.8 828.8 529.9 830.1 529.0M810.0 532.9 812.4 532.6 813.6 531.9 816.2 531.4 818.1 531.4 820.9 532.6 822.3 532.9 825.6 533.0 827.5 532.2 830.1 532.1M810.0 536.0 811.1 537.5 812.4 538.9 814.6 540.7 814.5 542.7 816.2 545.3 816.2 547.9M700.0 523.6 702.0 523.8 703.5 524.8 706.2 524.4 708.0 526.0 710.4 527.4 712.4 528.3 715.4 529.0 717.6 529.9 720.1 531.4 722.9 531.7 725.5 532.9 727.9 532.9 730.5 533.3 733.6 534.0 735.6 534.5 737.7 536.1 740.2 536.8 742.7 538.0 744.9 539.1 747.0 539.7 749.5 541.4 752.7 542.2 754.2 540.6 756.3 540.2 757.9 538.4 760.4 537.6 763.4 537.4 765.5 536.5 768.1 536.0 769.8 536.6 772.7 537.4 774.3 539.1 775.8 538.7 778.0 538.3 780.5 537.6 782.0 538.2 784.0 538.3 786.7 539.1 788.3 539.8 791.0 539.2 792.9 539.1M726.3 532.9 725.9 535.3 727.1 536.7 727.1 539.1 726.0 542.0 726.8 545.5 725.6 547.9M777.4 539.1 777.5 542.5 778.6 545.4 779.0 547.9M715.5 501.9 718.3 501.1 720.1 501.2 722.4 501.4 724.6 502.0 726.3 502.7 728.6 503.0 730.6 502.9 732.7 502.9 735.6 503.5 736.4 505.8 734.6 506.1 731.6 505.8 729.4 506.6 726.3 506.3 724.4 505.4 721.7 505.8 720.0 505.3 717.0 504.8 715.5 504.3ZM717.0 503.2 719.5 503.6 723.4 504.3 726.3 504.2 728.9 504.0 731.2 504.5 734.8 504.7M720.6 507.1 721.5 508.0M714.4 499.3 715.3 500.2M741.0 501.9 742.3 503.5M784.4 472.5 786.7 471.7 787.0 474.1 788.0 475.6 787.8 477.0 786.7 478.7 784.9 477.9 784.8 475.6ZM785.2 473.3 786.5 475.5 787.0 477.2M766.6 478.7 766.8 480.5 768.1 483.4 766.9 483.7 766.4 481.2 766.0 479.5ZM770.5 481.0 772.9 481.5 774.3 482.6 775.1 485.2 774.1 485.4 772.0 485.8 770.6 484.9 770.0 483.4ZM771.5 482.6 773.7 484.6M489.2 440.0 490.3 442.2 490.2 443.4 491.5 446.2 491.9 448.8 491.6 450.6 491.6 453.4 492.3 455.5 491.4 458.6 491.1 460.5 490.7 463.2 489.4 465.5 489.0 467.2 487.6 469.4 487.6 471.7 486.8 474.1 487.4 475.7 488.4 477.2 489.6 477.7 491.5 478.7 491.0 481.1 491.3 483.3 490.7 484.9 490.5 487.6 489.9 489.6 491.9 489.8 493.6 489.2 496.1 489.6 498.8 489.1 501.9 489.3 504.7 488.8 506.9 490.2 508.5 492.7 510.3 494.3 510.8 497.3 513.2 498.8M487.6 471.0 488.1 472.3 490.3 474.5 490.7 476.4M492.3 446.2 494.5 446.3 497.4 446.6 500.8 447.7 502.7 448.9 505.1 448.8 507.0 449.3 510.0 450.2 512.4 450.8 511.5 452.5 509.3 453.2 507.6 455.0 505.4 457.0 504.7 459.3 505.3 460.9 504.7 463.2 503.0 465.4 502.6 467.0 501.6 469.4 501.9 471.1 503.1 474.1 503.5 475.7 504.7 478.7 502.6 481.7 501.6 483.4 501.2 485.5 500.0 488.0M513.2 498.8 514.6 497.4 516.3 496.1 517.8 494.2 519.3 492.9 521.6 493.1 524.0 491.9 527.2 491.7 529.8 491.6 531.8 491.9 534.0 490.7 536.5 490.4 537.9 489.6 539.2 488.1 540.5 486.4 542.6 485.7 543.9 485.0 546.1 483.7 547.2 481.8 549.3 480.7 550.4 479.0 551.9 477.2 553.3 474.9 553.4 472.5 552.7 470.9 551.1 468.7 552.5 465.9 552.7 463.2 553.8 461.0 555.0 458.6 555.9 456.1 558.1 454.7 559.5 454.1 562.9 453.4 564.3 452.4 566.0 451.6 569.0 451.4 570.5 450.8 572.1 449.8 575.1 447.7 574.8 444.9 575.1 443.1 573.8 442.0 572.0 440.0M542.6 440.0 544.6 441.1 547.7 440.8 550.3 441.5 553.2 441.2 555.6 441.8 557.9 441.5 559.6 441.5 561.5 441.7 564.8 440.8 566.2 440.6 568.9 440.8M562.0 473.3 564.3 471.7 564.6 472.8 564.6 474.8 562.4 475.9ZM568.9 467.9 570.7 466.9 573.6 464.8 576.1 464.6 578.2 464.0 577.6 466.3 576.7 467.9 575.2 468.4 573.6 470.2 571.6 470.0 569.7 469.4ZM579.8 464.0 581.3 464.3 582.9 463.2 583.6 465.6 582.6 466.5 580.5 466.3ZM533.6 448.5 534.5 450.8M534.4 458.6 534.8 461.2 535.3 462.5M511.6 465.9 514.5 466.0 516.3 466.8M515.5 471.0 517.0 471.5 519.4 471.7M529.7 482.1 530.7 483.1M532.5 480.0 534.8 480.6M513.2 498.8 514.1 500.8 516.3 501.9 518.6 503.2 520.9 504.3 523.5 504.4 526.3 504.3 528.7 505.0 531.4 505.8 532.7 506.3 534.8 506.6 536.9 505.4 540.3 505.0 542.3 503.3 544.1 501.9 546.4 500.8 548.3 500.0 550.3 499.6 552.6 498.6 555.0 497.3 556.9 496.0 558.7 495.0 561.2 493.4 563.6 493.4 566.0 491.9 568.9 491.9 570.7 491.8 573.2 490.9 575.6 490.9 578.2 491.1 580.4 491.3 582.4 492.5 584.7 492.7 587.5 492.7 589.4 491.9 592.8 491.6 594.5 490.6 596.8 489.6 599.8 489.3 602.0 489.7 604.5 489.6 606.5 490.1 608.1 490.5 610.7 490.3 613.3 489.4 616.0 488.0M512.4 498.1 513.5 499.0 514.7 500.4M513.2 498.8 511.8 501.3 510.8 503.5 510.9 505.2 509.1 507.1 509.3 509.7 508.5 512.4 506.3 513.9 505.4 515.9 503.6 516.5 501.7 517.7 499.2 519.0 497.4 520.0 495.4 521.6 493.0 522.1 491.3 523.8 490.1 525.7 488.4 528.3 486.9 530.8 486.1 532.6 485.3 534.5 484.9 537.0 483.7 538.1 483.7 540.7 483.9 542.8 484.5 545.2 485.3 547.9M540.3 505.0 540.7 507.3 540.7 510.7 541.0 512.8 541.1 515.5 542.2 517.8 541.8 520.5 542.5 522.2 544.1 525.2 545.6 527.0 546.5 528.3 544.4 529.3 541.0 529.8 538.4 529.9 536.4 530.2 534.8 531.4 533.3 533.0 530.1 534.3 528.7 536.0 527.5 537.8 525.6 540.7 522.9 541.7 520.9 543.8 519.6 546.4 517.8 547.9M527.1 536.8 527.2 538.4 527.9 540.7M610.7 490.3 610.9 493.3 611.3 496.5 612.3 498.8 611.2 501.4 612.0 503.3 611.1 506.5 610.7 508.1 609.2 509.4 607.6 511.9 606.1 512.8 606.0 514.7 605.3 517.4 606.7 519.7 608.1 521.7 609.2 523.6 610.8 525.9 612.0 527.5 613.8 529.8 615.0 531.8 616.0 532.9M734.7 332.0 736.2 334.1 737.8 336.6 735.9 337.9 734.0 340.2 733.2 341.3 732.9 343.4 731.6 345.9 729.5 345.8 728.1 347.6 725.4 347.5 723.3 347.3 721.2 348.2 719.2 349.0 718.3 350.4 718.0 353.0 717.7 355.2 718.5 357.4 719.2 359.9 716.4 361.8 714.6 363.0 714.9 364.9 715.3 367.0 716.1 369.2 717.1 371.1 719.3 372.7 720.0 373.8 719.1 375.8 717.7 378.5 716.5 381.0 714.5 383.1 713.0 384.7 711.4 386.7 710.7 389.3 709.0 390.6 706.8 391.6 704.2 391.4 702.2 390.8 699.7 388.6 697.4 387.8 696.0 386.2M721.6 367.6 723.8 365.9 727.0 365.3 729.0 365.6 731.9 364.9 733.5 365.3 736.3 365.3 738.4 365.6 741.3 367.2 743.2 367.4 745.6 367.6 747.6 368.5 750.8 367.8 752.9 368.2 754.8 369.2 757.1 368.9 760.0 370.0 762.3 369.2 764.1 369.9 766.1 368.0 767.6 366.8 768.8 365.3 771.2 364.1 772.9 364.6 775.0 363.7 777.6 363.6 780.1 362.5 782.7 361.4 784.5 361.4 787.0 361.3 788.9 362.2 790.7 364.9 791.2 367.6 792.7 368.8 794.4 370.2 796.7 370.7 798.2 372.1 798.2 374.5 799.8 376.1 802.1 376.4 804.6 377.2 807.5 378.5 810.5 377.5 812.0 378.3 815.2 377.7 817.5 379.4 819.9 380.8 822.3 381.0 824.6 381.8 827.6 383.1 830.1 384.7M764.1 369.9 764.6 372.6 765.4 374.2 764.9 376.1M754.8 332.0 756.3 333.0 759.3 334.0 761.0 334.3 762.1 335.8 764.8 338.3 765.7 339.7 767.6 341.7 768.7 342.4 770.3 344.4 772.9 345.7 775.0 347.5 776.3 349.6 778.6 350.5 780.4 352.1 778.2 354.0 776.5 355.2 773.8 355.2 771.9 356.0 771.9 358.7 772.1 361.1 772.7 363.0M771.9 383.9 775.0 384.7 776.4 384.9 779.6 386.2 781.4 386.9 783.6 387.6 785.8 389.3 788.1 390.2 789.5 390.7 792.0 392.4M772.7 385.0 775.7 386.4 777.3 387.3 780.4 388.0 782.7 389.0 785.1 390.3 787.9 391.5 790.5 392.7M792.0 392.4 794.9 392.9 797.4 393.9 797.9 396.0 798.0 398.5 798.2 401.7 796.6 400.7 794.6 400.2 792.0 400.1 790.4 401.1 789.0 403.7 787.4 404.8 786.0 406.1 784.6 407.0 782.7 408.7 780.2 410.0 778.1 411.0 775.9 410.0 775.0 407.9M772.7 405.6 774.6 405.9 777.3 406.3 777.9 408.5 777.3 411.8 775.8 411.1 773.4 411.8 773.3 410.3 772.8 407.4ZM774.2 407.1 775.5 409.3 776.2 410.7M782.7 414.1 784.5 412.9 786.3 412.8 788.9 412.5 791.6 413.7 792.5 413.9 795.1 414.1 796.7 412.1 798.2 410.6 799.8 409.4 802.5 408.5 805.3 408.3 807.5 407.9 809.5 407.6 812.5 406.8 815.2 406.3 818.1 406.4 819.9 404.9 823.0 404.8 825.2 404.2 827.6 404.0M824.5 403.2 822.0 405.5 820.3 406.1 818.3 407.9 818.9 410.9 819.9 412.5 818.1 413.9 816.8 415.6 815.6 417.9 813.7 420.3 812.0 420.9 809.7 420.9 807.5 421.8 805.6 421.6 802.9 420.3 800.2 420.1 798.2 418.7 796.6 417.0 795.1 415.6M782.7 414.1 784.6 417.1 785.8 418.7 785.7 420.8 786.0 422.6 785.0 424.9 785.9 426.1 787.4 428.0 790.2 425.8 792.0 424.9 794.8 424.4 796.7 423.4 798.7 421.9 801.3 420.3M810.6 421.8 812.7 423.5 814.2 423.2 816.8 424.9 818.7 426.0 820.7 428.1 823.0 429.6 824.2 431.6 825.5 432.5 827.6 434.2 829.5 436.1 830.1 437.3M795.1 414.1 796.6 416.4 797.4 418.0 799.7 419.2 802.9 419.5M829.2 388.5 829.8 391.3 829.8 393.9M740.9 394.7 743.5 394.6 744.8 394.5 747.1 393.9 749.3 394.4 750.6 396.4 753.3 397.0 754.6 399.8 756.4 401.7 757.8 404.5 759.5 406.3 760.8 408.3 761.0 411.0 759.7 412.7 757.9 414.1 754.9 412.9 753.3 411.0 751.6 408.4 750.2 406.3 748.0 404.1 747.1 401.7 745.1 399.4 744.0 397.0 742.1 395.3ZM710.7 389.3 712.8 390.7 714.2 392.5 716.1 393.9 718.8 394.3 721.3 395.3 723.7 395.7 727.0 397.0 729.4 396.0 731.5 395.7 733.9 396.3 736.3 395.5 738.1 394.6 740.9 394.7M709.9 424.9 712.1 427.0 714.3 428.6 716.1 431.1 719.0 431.8 721.2 431.3 724.7 432.0 727.0 432.7 729.9 431.7 731.9 431.8 733.7 431.3 736.3 431.1 738.7 430.1 740.6 431.0 743.4 430.6 745.6 429.6 747.4 427.9 748.8 427.7 750.9 425.9 753.3 424.9 755.2 423.9 755.9 421.2 757.9 420.3 760.1 418.9 761.0 416.4 763.1 415.7 764.1 414.1 765.4 413.2 767.5 411.7 769.3 410.2 771.9 409.4M709.9 393.9 708.4 395.6 706.9 397.7 705.3 400.1 703.7 402.5 701.7 404.5 700.6 406.3 698.4 408.5 697.8 409.8 696.0 412.5M696.0 415.6 697.1 416.9 699.5 418.9 700.6 420.3 701.6 422.0 703.1 423.2 705.3 424.9 707.3 425.4 709.9 424.9 710.7 427.5 710.3 429.6 711.5 431.1 711.2 433.7 710.3 437.7 709.9 439.9M753.3 424.9 752.2 427.2 752.8 430.1 751.8 432.7 750.3 435.1 749.6 438.1 748.7 439.9M696.0 336.6 697.4 335.8 700.2 335.4 702.2 335.1 704.4 335.4 706.6 336.4 709.3 337.1 711.5 338.2 712.2 339.7 711.5 341.3M720.3 338.5 721.2 339.4M703.7 345.9 704.4 348.4 704.2 350.6M757.9 414.1 756.9 416.9 754.8 418.7 753.7 419.6 751.8 421.8 752.6 423.1 753.3 424.9M703.0 288.0 705.0 290.1 708.2 290.4 710.3 293.1 713.2 294.2 715.5 295.5 717.6 295.4 720.0 296.7 723.6 296.0 725.6 296.1 728.0 296.8 730.0 296.1 733.4 295.8 735.2 294.8 738.0 293.2 740.5 293.0 743.7 293.4 745.0 293.1 748.6 292.0 750.6 292.6 753.0 291.8 755.0 292.7 758.5 294.6 760.9 296.0 763.0 296.8M703.0 288.0 702.5 290.4 702.1 293.6 701.8 295.5 703.6 298.6 703.9 300.9 705.5 303.0M678.0 294.2 679.9 293.6 683.4 293.9 685.5 293.5 687.7 294.9 690.1 295.8 693.0 297.5 690.8 297.5 688.3 297.8 685.5 298.0 683.0 296.9 680.8 295.3ZM678.0 314.2 680.6 313.8 681.7 313.0 684.2 313.0 684.8 315.5 686.1 316.8 688.0 319.2 685.4 320.0 683.7 320.4 680.5 320.5 679.1 319.0 679.5 316.8ZM705.5 304.2 708.0 304.9 710.4 305.8 712.9 306.4 715.5 308.0 718.0 309.1 719.6 310.7 722.4 311.9 724.2 313.0 722.2 315.2 720.5 316.4 718.0 318.0 715.7 317.5 713.0 316.8 711.5 315.0 709.2 314.2 707.9 312.7 705.9 311.1 704.2 309.2 704.2 306.5ZM700.5 318.0 701.0 320.2 702.2 322.9 702.3 325.7 703.0 328.0 701.8 330.5 701.8 333.0 703.4 334.7 706.1 335.8 707.8 337.1 710.5 338.0 708.6 338.9 705.0 339.1 702.9 339.4 700.5 340.5 698.1 341.6 695.1 342.1 693.0 343.0M721.8 301.8 724.2 301.5 727.8 301.2 730.3 299.7 732.2 299.7 735.5 299.2 737.8 299.6 740.3 300.3 743.0 300.8 745.5 300.5 747.0 298.7 749.2 297.7 750.5 295.5M741.8 304.2 743.9 305.3 745.4 306.4 748.0 306.8 748.0 310.0 748.7 312.3 749.2 315.5 747.1 314.8 744.2 314.2 743.8 311.2 742.5 308.8 742.5 306.4ZM700.5 323.0 702.9 323.1 705.6 321.5 708.5 321.4 710.6 321.3 712.9 320.3 715.5 320.5 718.1 319.9 720.6 320.2 723.1 320.2 724.9 319.0 728.0 319.2 730.7 319.4 733.5 321.0 736.0 321.2 738.6 321.6 740.5 323.0 742.1 324.2 744.1 326.5 745.5 328.0M748.0 315.5 747.9 318.1 747.6 320.0 746.8 323.0 746.1 325.6 745.5 328.0 747.8 329.1 748.6 331.1 750.5 333.0M745.5 328.0 744.1 329.3 742.9 331.8 741.5 333.1 740.5 335.5 739.9 337.7 738.9 340.5 738.0 343.0 735.8 344.4 732.5 345.8 730.7 347.4 728.0 348.0M750.5 333.0 753.0 333.8 756.1 334.7 757.7 334.7 760.2 335.0 763.0 335.5 764.9 337.2 765.0 339.3 766.8 341.3 768.0 343.0 768.9 345.1 770.0 348.3 771.5 349.8 771.8 353.0 773.2 354.0 775.4 355.2 778.0 355.5 780.1 357.9 781.2 358.6 783.0 360.5 780.6 361.5 777.3 361.7 775.5 363.0M785.5 360.5 787.2 362.4 789.2 363.5 791.3 364.3 793.8 366.3 795.5 368.0 797.8 370.2 798.8 371.5 801.3 373.8 803.7 376.6 805.5 378.0 808.4 378.7 810.5 379.2 813.5 379.6 815.3 380.4 818.0 380.5 820.3 381.8 823.3 382.2 825.5 383.2 827.7 384.1 830.0 385.5M768.5 312.5 770.0 311.3 771.0 309.2 773.0 310.9 774.0 313.0 771.9 312.4ZM489.2 440.0 487.5 438.5 488.0 436.0 489.3 435.9 492.0 434.5 494.7 434.3 497.0 433.2 499.1 432.9 501.0 433.0 503.5 433.8 506.0 434.0 508.0 434.0 510.4 433.5 513.2 434.3 516.0 434.5 518.3 434.8 522.0 434.8 524.0 435.5 526.1 435.2 529.1 436.4 531.0 436.2 533.9 436.4 535.0 436.7 538.0 437.0 540.3 436.8 542.5 437.5 545.8 438.6 548.0 439.0 549.9 440.6 551.2 441.9 553.5 442.5M545.2 428.0 546.6 430.6 547.0 432.0 548.2 433.5 549.0 436.0 550.3 437.9 551.0 440.0 552.5 441.3 553.5 442.5M487.5 438.5 489.0 441.0 488.1 443.1 488.5 444.0M649.5 152.5 652.3 153.8 653.9 154.8 657.0 156.0 658.9 156.5 662.2 156.7 664.5 157.5 667.1 155.9 670.0 154.6 672.0 153.5M692.0 151.5 694.3 151.7 697.2 152.4 699.7 152.5 703.0 153.5 705.6 152.7 708.9 153.3 711.2 152.9 714.5 153.0M725.5 158.5 727.4 157.5 730.1 157.2 732.0 157.0M711.3 455.1 713.6 453.6 716.8 453.1 719.3 452.4 721.3 452.2 723.4 453.3 725.5 453.3 727.1 453.1 729.8 453.7 732.3 454.8 734.3 455.1 735.7 452.7 736.1 449.8 738.6 448.6 741.3 448.3 743.2 447.1 745.2 444.9 746.8 442.7 747.6 440.0M736.1 449.8 738.6 451.0 739.7 451.5 742.0 450.1 744.8 450.3 746.8 448.9 748.5 450.0 750.6 451.5 752.1 452.4 754.7 452.9 757.4 454.2 759.1 455.0 761.7 455.4 763.6 455.1 765.6 455.7 768.1 456.1 770.0 456.0M746.8 456.9 750.0 456.3 752.1 456.0 753.2 456.8 755.6 457.7 753.7 458.8 752.1 460.0 749.8 460.1 748.5 459.5 747.8 457.7ZM755.6 457.7 757.1 458.2 760.2 457.5 761.8 457.7M756.1 458.4 758.9 458.9 761.4 458.4M717.5 457.7 720.2 456.7 722.8 456.0 724.5 456.6 726.4 456.9 725.1 458.4 723.7 458.6 722.2 459.3 721.0 460.4 719.3 462.2 716.6 461.3 717.5 459.6ZM712.2 455.1 711.7 456.8 710.4 458.6 710.6 460.9 710.0 463.1 710.3 465.1 711.3 466.6 711.1 469.0 712.2 470.2 711.4 471.9 710.4 473.7 709.5 475.5M690.0 463.9 691.9 464.8 693.5 465.7 694.5 468.4 695.3 470.2 696.2 471.7 698.0 471.9 697.8 473.2 698.9 475.5 697.1 477.3 696.6 479.0 695.3 479.9 696.2 482.6 697.4 483.5 698.9 484.3 700.4 485.5 701.5 487.9 703.3 490.2 704.2 491.4 706.5 493.0 707.7 494.1 708.4 494.9 710.4 496.8M690.0 464.8 690.8 465.8 692.7 466.6 692.7 468.3 693.1 469.7 690.4 469.3 689.8 467.3ZM693.5 445.3 695.1 447.2 697.1 448.9 697.2 450.8 696.2 453.3 697.3 455.4 697.1 457.7 698.7 458.9 698.9 460.4 696.5 461.0 695.3 463.1 694.7 463.8 692.7 464.8M697.1 448.9 699.2 447.7 702.4 447.1 704.9 446.7 707.7 446.2 708.9 445.6 711.3 444.4 711.3 442.0 710.4 440.0M697.1 457.7 699.7 457.4 700.9 456.2 703.3 455.1 705.8 454.8 708.5 454.9 711.3 455.1M694.4 440.0 694.1 442.9 693.5 445.3M710.8 463.5 712.7 465.1 714.5 468.2 716.6 469.7 718.6 471.3 720.3 474.1 721.0 475.9 722.0 476.8 723.3 479.2 725.5 480.4 727.2 482.5 729.0 484.8 730.8 486.2 731.2 488.8M712.2 466.6 714.1 468.7 715.7 471.0M723.7 479.9 725.4 482.5 727.3 484.3M709.5 475.5 711.4 476.3 713.1 477.3 714.4 478.6 716.6 479.9 718.0 482.1 719.3 484.3 717.7 484.8 716.6 486.1 715.0 485.3 713.1 484.3 712.7 482.2 711.3 480.8 710.2 479.3 709.1 478.1ZM698.9 479.0 701.2 478.4 703.3 478.1 706.2 479.1 707.7 479.9 709.8 480.7 711.3 482.6 710.8 484.6 710.4 486.1 711.2 488.2 713.1 489.7 712.8 492.1 711.3 493.2 709.9 492.7 707.7 492.3 705.8 491.5 705.1 489.7 703.6 491.4 703.3 493.2 702.8 492.1 701.5 489.7 700.1 488.1 699.8 486.1 699.7 484.1 698.9 482.6 698.2 480.6ZM739.7 463.1 738.3 464.8 736.1 466.6 735.0 468.3 734.1 470.0 732.6 471.9 734.1 474.1 734.3 475.5 732.3 475.7 730.8 477.3 733.2 478.9 734.3 479.9 737.3 479.6 739.7 479.0 740.4 480.8 742.3 482.6 740.5 483.7 739.7 486.1 742.1 488.3 743.2 489.7 745.2 491.1 746.8 493.2 745.3 495.0 745.0 496.8 747.3 495.6 748.5 495.0 749.8 492.9 752.1 491.4 754.4 492.5 755.6 495.0 757.7 495.4 761.0 496.8 763.3 494.5 765.4 493.2 767.6 492.8 770.0 491.4M734.3 468.8 736.5 468.7 739.2 467.9 740.3 469.9 741.4 471.0 741.5 473.5 740.6 476.4 738.0 476.3 736.6 477.3 736.1 475.2 734.3 474.1 734.3 472.2ZM736.1 470.2 738.1 472.2 739.2 475.0M739.7 481.7 741.4 483.2 743.2 484.3 742.4 486.4 742.3 487.9 743.4 489.9 745.0 491.4 746.8 489.7 745.8 487.4 744.1 486.1M743.2 493.2 744.1 494.4 745.9 495.9M726.4 464.8 727.9 465.4 729.9 465.3 730.4 467.1 728.9 467.1 726.8 467.1ZM726.8 465.9 728.2 466.4 729.9 466.3M719.3 462.6 721.0 462.4 722.8 463.2 722.4 465.0 719.7 464.7ZM720.2 463.8 722.1 464.1M727.3 468.4 728.1 469.7M716.6 458.6 718.4 460.4M713.1 460.4 715.4 460.6 716.6 462.2 718.5 463.9 719.3 465.7M713.9 462.2 716.0 464.6 717.5 465.7M720.2 486.1 721.9 487.9 721.0 489.7M723.7 487.9 725.5 490.1 724.1 492.3M727.3 489.2 728.6 489.7 729.5 491.4 728.1 494.1M731.2 491.0 732.9 492.3 733.5 493.2M734.8 492.3 737.0 494.1M721.9 491.9 724.1 493.7M719.3 489.7 720.6 491.9M729.0 494.1 730.4 495.4M732.6 495.0 734.3 495.9M735.7 489.7 737.9 491.4M714.4 499.4 715.7 500.3M695.3 480.8 697.7 481.6 698.9 482.6M698.0 472.8 700.3 474.6 701.5 475.5 703.5 476.0 706.0 477.3 707.0 477.9 709.1 478.1M766.8 478.1 768.4 478.1 768.3 481.2 768.4 483.5 766.8 483.5 767.2 481.1ZM767.3 479.0 767.7 480.5 767.9 482.7"/>
<path d="M409.2 133.2 411.2 133.5 413.2 133.4 415.8 133.4 418.3 134.0 419.7 133.3 422.5 134.0 424.2 133.7 426.6 133.3 429.1 133.3M403.9 138.0 405.3 137.5 406.9 138.6 409.2 138.1 411.1 138.3 413.3 137.9 414.5 137.5 416.5 137.2 418.5 137.4 419.8 138.0M399.9 141.5 402.5 142.1 404.8 142.2 407.2 141.8 410.1 141.6 411.8 141.0 414.5 140.7M422.5 141.0 425.3 141.0 427.1 140.7 430.0 141.0 431.8 141.8M406.5 145.6 408.2 145.7 410.4 144.7 411.8 144.6 413.2 144.6 415.7 145.4 417.2 146.1 418.7 145.5 421.3 145.8 422.5 146.0M399.9 149.5 402.0 149.5 404.8 149.6 406.5 149.5 408.4 149.2 410.5 149.3 413.2 148.7 415.1 148.8 418.1 148.8 419.8 148.5M425.1 148.7 426.0 147.8 427.8 147.9 429.2 147.7 430.5 148.1M394.5 153.5 396.7 153.9 398.6 153.5 401.2 153.2 403.9 153.6 405.4 153.9 407.8 153.9 410.6 154.0 412.3 154.4 414.5 153.8M418.5 155.8 420.8 155.5 423.1 155.3 425.9 155.7 427.8 155.5M397.2 159.3 399.3 159.4 400.2 160.0 402.5 159.5 404.7 159.4 406.2 159.8 407.8 159.2 409.5 159.3 411.3 159.2 413.2 158.9 415.5 158.8 416.8 160.2 418.5 160.1M398.5 164.0 399.8 163.9 402.4 164.1 403.9 163.8 405.2 163.2 407.3 163.3 409.2 163.6 411.2 163.9 412.9 163.0 414.5 163.0 415.8 163.1 418.3 162.4 419.8 162.8 421.2 163.1 423.5 162.9 425.1 162.9M395.9 167.2 397.4 167.6 399.8 168.0 402.1 168.3 404.6 168.1 406.8 167.4 408.3 167.8 409.8 168.3 411.9 167.8 414.5 168.5M419.8 171.1 422.4 171.6 424.2 171.9 426.5 172.0 429.1 171.5 431.0 172.4 433.1 171.8M397.2 171.8 398.9 171.5 401.8 172.0 403.9 172.1 406.6 171.9 408.5 172.4 410.5 173.2 412.3 172.4 414.7 173.1 417.2 172.5M395.9 178.0 397.8 177.3 400.0 177.8 401.9 177.1 403.4 176.9 406.2 176.4 407.8 176.5 410.2 176.7 412.2 177.7 413.8 177.4 416.0 177.3 418.4 177.7 419.8 177.7M398.5 180.8 400.3 181.2 403.3 181.0 405.2 180.6 407.5 180.5 409.2 180.4 411.8 180.9M373.3 185.3 375.1 185.4 377.2 185.0 379.1 185.0 381.6 184.1 382.5 184.7 385.0 183.9 387.1 184.3 388.3 184.1 390.8 184.1 392.2 183.7 394.2 184.2 396.7 183.9 399.1 183.8 400.9 184.2 402.5 183.8M360.0 189.0 362.2 188.3 364.1 188.4 365.9 188.0 367.8 188.7 370.1 187.9 371.9 188.6 373.5 188.6 376.5 188.7 377.9 188.4 380.3 188.1 381.3 187.9 383.9 188.0 385.4 188.4 387.4 188.4 389.9 188.9 392.2 188.6 393.5 188.6 395.9 187.9M371.9 193.4 374.2 192.9 375.6 193.2 378.0 192.6 380.3 193.3 382.1 192.5 384.2 193.1 386.4 192.4 388.4 192.6 390.3 192.7 392.2 192.6 394.7 193.1 396.4 192.8 397.9 193.5 401.0 193.2 402.5 193.9M362.6 191.0 365.0 190.6 366.6 190.2 368.1 191.2 370.6 191.1M375.9 196.7 378.5 197.0 380.6 197.0 382.7 197.0 385.2 197.7M352.0 200.1 354.6 199.6 357.2 199.3 359.3 199.2 361.2 200.0 364.6 200.0 366.6 200.6M390.6 200.0 392.0 200.0 394.1 200.6 395.9 200.1 397.2 200.9 399.4 200.5 401.2 200.9M354.6 204.2 356.1 204.5 358.6 204.8 360.3 204.2 361.8 203.6 364.3 203.4 365.9 203.8 367.4 204.2 369.7 203.4 371.6 203.8 373.3 204.6 375.5 204.7 377.3 204.6M393.2 207.4 395.2 207.7 396.4 208.4 398.5 208.0 400.7 207.4 402.5 207.7 403.9 207.6M348.0 209.1 350.4 209.5 351.9 209.4 353.3 209.9 355.4 209.9 356.5 209.2 358.6 209.1 360.5 209.6 362.3 208.8 363.9 209.3 365.8 208.8 368.1 209.0 369.3 209.7 371.0 209.7 372.3 209.0 374.6 208.6M353.3 212.6 355.1 213.4 357.2 213.3 358.6 213.8 360.1 213.8 361.6 214.0 363.9 213.7 366.3 212.9 367.2 213.2 369.3 212.7M395.9 212.6 397.4 213.1 399.9 213.5 401.6 213.9 403.9 213.8M418.5 133.3 417.9 135.6 415.9 137.3 415.8 139.8 414.5 141.3 413.7 143.6 413.0 145.3 412.7 147.7 411.8 149.3 410.7 152.1 410.3 153.4 409.8 156.0 409.2 158.6 409.4 161.0 408.9 163.6 407.7 166.0 407.8 167.9 407.8 169.7 407.7 172.8 407.3 174.4 406.5 177.2 405.4 179.0 404.4 180.2 403.6 181.7 402.5 183.9 401.8 185.2 401.1 186.9 399.1 188.8 398.5 190.5 398.7 193.0 398.4 194.8 397.8 197.2 397.2 199.8 397.7 201.6 398.8 203.6 398.7 205.6 399.9 207.8 399.4 210.1 398.5 212.5 398.5 214.5M383.9 185.2 383.1 187.2 381.7 189.3 381.3 191.7 379.9 193.2 378.6 195.4 376.1 197.0 374.9 197.7 373.3 199.8 372.1 200.9 370.5 202.0 368.0 204.1 366.6 205.2 365.3 206.9 364.0 208.0 362.4 209.7 361.3 210.5" stroke-width="4.3"/>
<rect x="494.0" y="204.0" width="5.0" height="3.0" fill="#3C0041" stroke="none"/>
<rect x="334.0" y="468.0" width="3.0" height="3.0" fill="#3C0041" stroke="none"/>
<rect x="352.0" y="476.0" width="6.0" height="3.0" fill="#3C0041" stroke="none"/>
<rect x="357.0" y="475.0" width="9.0" height="3.0" fill="#3C0041" stroke="none"/>
<rect x="372.0" y="481.0" width="7.0" height="3.0" fill="#3C0041" stroke="none"/>
<rect x="375.0" y="483.0" width="4.0" height="2.0" fill="#3C0041" stroke="none"/>
<rect x="377.0" y="489.0" width="3.0" height="3.0" fill="#3C0041" stroke="none"/>
<rect x="432.5" y="524.0" width="6.0" height="3.0" fill="#3C0041" stroke="none"/>
<rect x="436.0" y="526.0" width="3.0" height="2.0" fill="#3C0041" stroke="none"/>
<rect x="438.0" y="521.5" width="2.0" height="2.0" fill="#3C0041" stroke="none"/>
<rect x="683.0" y="175.0" width="4.0" height="4.0" fill="#3C0041" stroke="none"/>
</g>
<g shape-rendering="crispEdges">
<rect x="557" y="132" width="274" height="19" fill="#fff"/>
<path d="M553 131V548" stroke="#3C0041" stroke-width="2" fill="none"/>
<rect x="135" y="131" width="696" height="417" fill="none" stroke="#3C0041" stroke-width="2"/>
<path d="M135.5 549V553M131 131.5H134M205.1 549V553M131 173.2H134M274.7 549V553M131 214.9H134M344.3 549V553M131 256.6H134M413.9 549V553M131 298.3H134M483.5 549V553M131 340.0H134M553.1 549V553M131 381.7H134M622.7 549V553M131 423.4H134M692.3 549V553M131 465.1H134M761.9 549V553M131 506.8H134M831.5 549V553M131 548.5H134" stroke="#000" stroke-width="1" fill="none"/>
<rect x="134.8" y="624" width="45.3" height="16" fill="#780078"/><rect x="180.1" y="624" width="45.3" height="16" fill="#C800C8"/><rect x="225.3" y="624" width="45.3" height="16" fill="#7D00DC"/><rect x="270.6" y="624" width="45.3" height="16" fill="#3200DC"/><rect x="315.9" y="624" width="45.3" height="16" fill="#0064C8"/><rect x="361.2" y="624" width="45.3" height="16" fill="#00FFFF"/><rect x="406.4" y="624" width="45.3" height="16" fill="#FFFFFF"/><rect x="451.7" y="624" width="45.3" height="16" fill="#FFFFFF"/><rect x="497.0" y="624" width="45.3" height="16" fill="#32DC00"/><rect x="542.2" y="624" width="45.3" height="16" fill="#C8DC0A"/><rect x="587.5" y="624" width="45.3" height="16" fill="#FFDC00"/><rect x="632.8" y="624" width="45.3" height="16" fill="#FFDC00"/><rect x="678.0" y="624" width="45.3" height="16" fill="#FFAA00"/><rect x="723.3" y="624" width="45.3" height="16" fill="#FF3200"/><polygon points="91,632 134.8,624 134.8,640" fill="#4B004B" stroke="#000" stroke-width="2" stroke-linejoin="miter"/><polygon points="813,632 768.6,624 768.6,640" fill="#FF0000" stroke="#000" stroke-width="2"/><path d="M134.8 624H768.6M134.8 640H768.6M134.8 623V641M180.1 623V641M225.3 623V641M270.6 623V641M315.9 623V641M361.2 623V641M406.4 623V641M451.7 623V641M497.0 623V641M542.2 623V641M587.5 623V641M632.8 623V641M678.0 623V641M723.3 623V641M768.6 623V641" stroke="#000" stroke-width="2" fill="none"/>
</g>
<text x="577.5" y="144" font-size="11.6" text-anchor="start" textLength="249" lengthAdjust="spacing">NOAA/ESRL Physical Sciences Division</text>
<text x="118.8" y="656.2" font-size="15.4" text-anchor="start" textLength="34.8" lengthAdjust="spacing">−3.5</text><text x="209.3" y="656.2" font-size="15.4" text-anchor="start" textLength="34.8" lengthAdjust="spacing">−2.5</text><text x="299.9" y="656.2" font-size="15.4" text-anchor="start" textLength="34.8" lengthAdjust="spacing">−1.5</text><text x="390.4" y="656.2" font-size="15.4" text-anchor="start" textLength="34.8" lengthAdjust="spacing">−0.5</text><text x="486.0" y="656.2" font-size="15.4" text-anchor="start" textLength="23.8" lengthAdjust="spacing">0.5</text><text x="576.5" y="656.2" font-size="15.4" text-anchor="start" textLength="23.8" lengthAdjust="spacing">1.5</text><text x="667.0" y="656.2" font-size="15.4" text-anchor="start" textLength="23.8" lengthAdjust="spacing">2.5</text><text x="757.6" y="656.2" font-size="15.4" text-anchor="start" textLength="23.8" lengthAdjust="spacing">3.5</text><text x="125.2" y="565.3" font-size="14.6" text-anchor="start" textLength="21.5" lengthAdjust="spacingAndGlyphs">60W</text><text x="194.8" y="565.3" font-size="14.6" text-anchor="start" textLength="21.5" lengthAdjust="spacingAndGlyphs">50W</text><text x="264.3" y="565.3" font-size="14.6" text-anchor="start" textLength="21.5" lengthAdjust="spacingAndGlyphs">40W</text><text x="333.9" y="565.3" font-size="14.6" text-anchor="start" textLength="21.5" lengthAdjust="spacingAndGlyphs">30W</text><text x="403.5" y="565.3" font-size="14.6" text-anchor="start" textLength="21.5" lengthAdjust="spacingAndGlyphs">20W</text><text x="473.1" y="565.3" font-size="14.6" text-anchor="start" textLength="21.5" lengthAdjust="spacingAndGlyphs">10W</text><text x="550.0" y="565.3" font-size="14.6" text-anchor="start" textLength="7" lengthAdjust="spacingAndGlyphs">0</text><text x="612.3" y="565.3" font-size="14.6" text-anchor="start" textLength="21.5" lengthAdjust="spacingAndGlyphs">10E</text><text x="681.9" y="565.3" font-size="14.6" text-anchor="start" textLength="21.5" lengthAdjust="spacingAndGlyphs">20E</text><text x="751.5" y="565.3" font-size="14.6" text-anchor="start" textLength="21.5" lengthAdjust="spacingAndGlyphs">30E</text><text x="821.1" y="565.3" font-size="14.6" text-anchor="start" textLength="21.5" lengthAdjust="spacingAndGlyphs">40E</text><text x="106.3" y="136.3" font-size="14.6" text-anchor="start" textLength="21.5" lengthAdjust="spacingAndGlyphs">80N</text><text x="106.3" y="178.0" font-size="14.6" text-anchor="start" textLength="21.5" lengthAdjust="spacingAndGlyphs">75N</text><text x="106.3" y="219.7" font-size="14.6" text-anchor="start" textLength="21.5" lengthAdjust="spacingAndGlyphs">70N</text><text x="106.3" y="261.4" font-size="14.6" text-anchor="start" textLength="21.5" lengthAdjust="spacingAndGlyphs">65N</text><text x="106.3" y="303.1" font-size="14.6" text-anchor="start" textLength="21.5" lengthAdjust="spacingAndGlyphs">60N</text><text x="106.3" y="344.8" font-size="14.6" text-anchor="start" textLength="21.5" lengthAdjust="spacingAndGlyphs">55N</text><text x="106.3" y="386.5" font-size="14.6" text-anchor="start" textLength="21.5" lengthAdjust="spacingAndGlyphs">50N</text><text x="106.3" y="428.2" font-size="14.6" text-anchor="start" textLength="21.5" lengthAdjust="spacingAndGlyphs">45N</text><text x="106.3" y="469.9" font-size="14.6" text-anchor="start" textLength="21.5" lengthAdjust="spacingAndGlyphs">40N</text><text x="106.3" y="511.6" font-size="14.6" text-anchor="start" textLength="21.5" lengthAdjust="spacingAndGlyphs">35N</text><text x="106.3" y="553.3" font-size="14.6" text-anchor="start" textLength="21.5" lengthAdjust="spacingAndGlyphs">30N</text>
<text x="199" y="588.3" font-size="15" text-anchor="start" textLength="25" lengthAdjust="spacing">Sea</text><text x="235" y="588.3" font-size="15" text-anchor="start" textLength="38" lengthAdjust="spacing">Level</text><text x="283" y="588.3" font-size="15" text-anchor="start" textLength="66.5" lengthAdjust="spacing">Pressure</text><text x="358.5" y="588.3" font-size="15" text-anchor="start" textLength="35.5" lengthAdjust="spacing">(mb)</text><text x="405.5" y="588.3" font-size="15" text-anchor="start" textLength="77.5" lengthAdjust="spacing">Composite</text><text x="494" y="588.3" font-size="15" text-anchor="start" textLength="64" lengthAdjust="spacing">Anomaly</text><text x="568" y="588.3" font-size="15" text-anchor="start" textLength="96" lengthAdjust="spacing">(1981−2010</text><text x="675" y="588.3" font-size="15" text-anchor="start" textLength="93" lengthAdjust="spacing">Climatology)</text><text x="393.5" y="604" font-size="15" text-anchor="start" textLength="58.5" lengthAdjust="spacing">1/1/15</text><text x="472" y="604" font-size="15" text-anchor="start" textLength="13" lengthAdjust="spacing">to</text><text x="497" y="604" font-size="15" text-anchor="start" textLength="77.7" lengthAdjust="spacing">12/31/15</text>
<text x="394" y="628.6" font-size="15" text-anchor="start" textLength="90.5" lengthAdjust="spacing" class="n">NCEP/NCAR</text><text x="495.5" y="628.6" font-size="15" text-anchor="start" textLength="78" lengthAdjust="spacing" class="n">Reanalysis</text>
</svg>
</body></html>
